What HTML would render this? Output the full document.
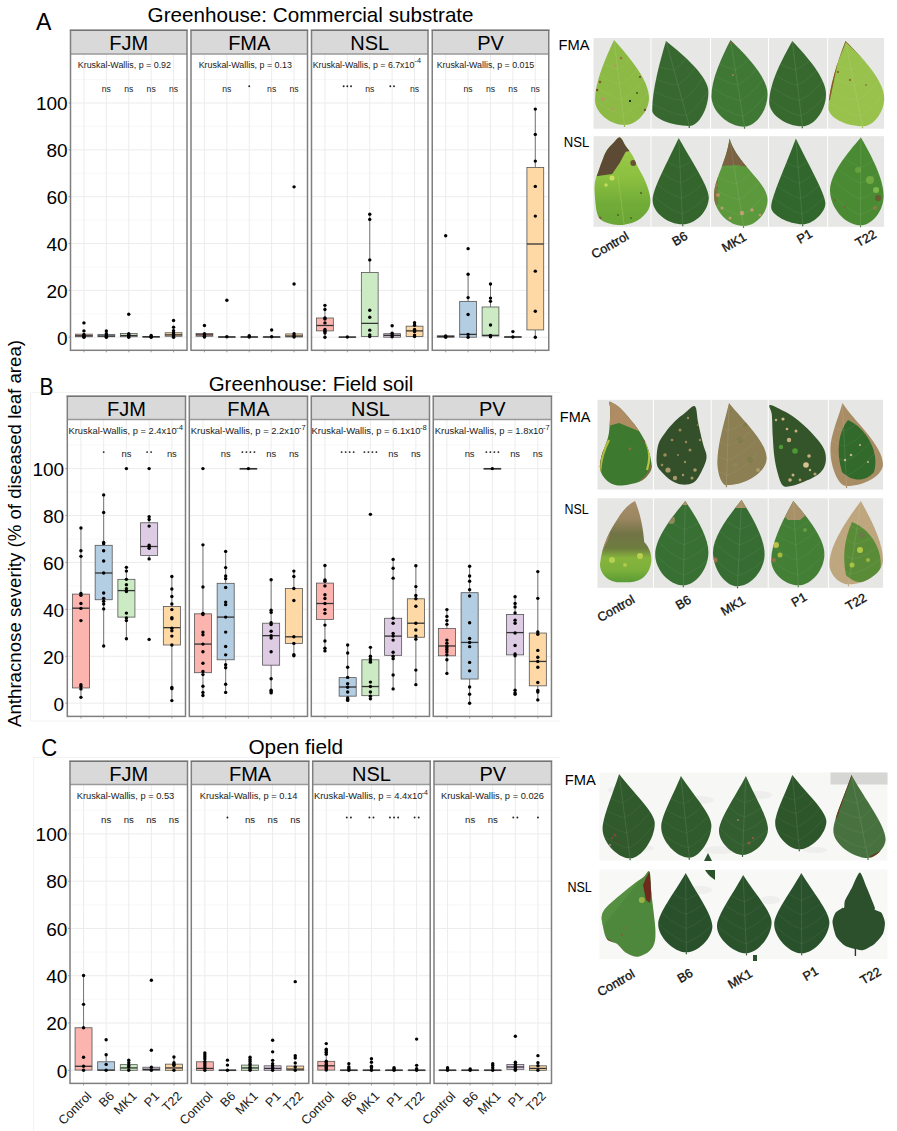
<!DOCTYPE html>
<html><head><meta charset="utf-8"><title>Anthracnose severity</title>
<style>html,body{margin:0;padding:0;background:#fff;}body{width:897px;height:1131px;overflow:hidden;}svg{display:block;}</style>
</head><body>
<svg width="897" height="1131" viewBox="0 0 897 1131" font-family='"Liberation Sans", sans-serif'>
<rect width="897" height="1131" fill="#fff"/>
<line x1="30.5" y1="392.5" x2="30.5" y2="721" stroke="#f0f0f0" stroke-width="1"/>
<line x1="30.5" y1="392.5" x2="560" y2="392.5" stroke="#f4f4f4" stroke-width="1"/>
<line x1="30.5" y1="721" x2="560" y2="721" stroke="#f4f4f4" stroke-width="1"/>
<line x1="33.5" y1="757.5" x2="33.5" y2="1131" stroke="#f2f2f2" stroke-width="1"/>
<line x1="33" y1="757.5" x2="560" y2="757.5" stroke="#f2f2f2" stroke-width="1"/>
<text x="36.0" y="29.5" font-size="24" textLength="15.4" lengthAdjust="spacingAndGlyphs" fill="#000">A</text>
<text x="147.6" y="22.4" font-size="21" textLength="326.0" lengthAdjust="spacingAndGlyphs" fill="#000">Greenhouse: Commercial substrate</text>
<rect x="70.50" y="54.00" width="116.50" height="296.30" fill="#fff"/>
<line x1="70.50" x2="187.00" y1="313.78" y2="313.78" stroke="#f4f4f4" stroke-width="0.6"/>
<line x1="70.50" x2="187.00" y1="266.94" y2="266.94" stroke="#f4f4f4" stroke-width="0.6"/>
<line x1="70.50" x2="187.00" y1="220.10" y2="220.10" stroke="#f4f4f4" stroke-width="0.6"/>
<line x1="70.50" x2="187.00" y1="173.26" y2="173.26" stroke="#f4f4f4" stroke-width="0.6"/>
<line x1="70.50" x2="187.00" y1="126.42" y2="126.42" stroke="#f4f4f4" stroke-width="0.6"/>
<line x1="70.50" x2="187.00" y1="79.58" y2="79.58" stroke="#f4f4f4" stroke-width="0.6"/>
<line x1="70.50" x2="187.00" y1="337.20" y2="337.20" stroke="#ececec" stroke-width="1"/>
<line x1="70.50" x2="187.00" y1="290.36" y2="290.36" stroke="#ececec" stroke-width="1"/>
<line x1="70.50" x2="187.00" y1="243.52" y2="243.52" stroke="#ececec" stroke-width="1"/>
<line x1="70.50" x2="187.00" y1="196.68" y2="196.68" stroke="#ececec" stroke-width="1"/>
<line x1="70.50" x2="187.00" y1="149.84" y2="149.84" stroke="#ececec" stroke-width="1"/>
<line x1="70.50" x2="187.00" y1="103.00" y2="103.00" stroke="#ececec" stroke-width="1"/>
<line x1="83.94" x2="83.94" y1="54.00" y2="350.30" stroke="#ececec" stroke-width="1"/>
<line x1="106.35" x2="106.35" y1="54.00" y2="350.30" stroke="#ececec" stroke-width="1"/>
<line x1="128.75" x2="128.75" y1="54.00" y2="350.30" stroke="#ececec" stroke-width="1"/>
<line x1="151.15" x2="151.15" y1="54.00" y2="350.30" stroke="#ececec" stroke-width="1"/>
<line x1="173.56" x2="173.56" y1="54.00" y2="350.30" stroke="#ececec" stroke-width="1"/>
<line x1="83.94" x2="83.94" y1="336.73" y2="337.20" stroke="#555" stroke-width="0.8"/>
<rect x="75.54" y="334.16" width="16.80" height="2.58" fill="#FBB4AE" stroke="#555" stroke-width="0.8"/>
<line x1="75.54" x2="92.34" y1="335.79" y2="335.79" stroke="#333" stroke-width="1.3"/>
<circle cx="83.94" cy="322.91" r="1.7" fill="#000"/>
<circle cx="83.94" cy="330.88" r="1.7" fill="#000"/>
<circle cx="83.94" cy="334.39" r="1.7" fill="#000"/>
<circle cx="83.94" cy="335.79" r="1.7" fill="#000"/>
<circle cx="83.94" cy="336.73" r="1.7" fill="#000"/>
<circle cx="83.94" cy="337.20" r="1.7" fill="#000"/>
<line x1="106.35" x2="106.35" y1="330.88" y2="334.39" stroke="#555" stroke-width="0.8"/>
<line x1="106.35" x2="106.35" y1="336.73" y2="337.20" stroke="#555" stroke-width="0.8"/>
<rect x="97.94" y="334.39" width="16.80" height="2.34" fill="#B3CDE3" stroke="#555" stroke-width="0.8"/>
<line x1="97.94" x2="114.75" y1="336.03" y2="336.03" stroke="#333" stroke-width="1.3"/>
<circle cx="106.35" cy="330.88" r="1.7" fill="#000"/>
<circle cx="106.35" cy="333.69" r="1.7" fill="#000"/>
<circle cx="106.35" cy="335.56" r="1.7" fill="#000"/>
<circle cx="106.35" cy="336.73" r="1.7" fill="#000"/>
<circle cx="106.35" cy="337.20" r="1.7" fill="#000"/>
<line x1="128.75" x2="128.75" y1="336.73" y2="337.20" stroke="#555" stroke-width="0.8"/>
<rect x="120.35" y="333.45" width="16.80" height="3.28" fill="#CCEBC5" stroke="#555" stroke-width="0.8"/>
<line x1="120.35" x2="137.15" y1="335.56" y2="335.56" stroke="#333" stroke-width="1.3"/>
<circle cx="128.75" cy="314.25" r="1.7" fill="#000"/>
<circle cx="128.75" cy="333.69" r="1.7" fill="#000"/>
<circle cx="128.75" cy="334.86" r="1.7" fill="#000"/>
<circle cx="128.75" cy="336.03" r="1.7" fill="#000"/>
<circle cx="128.75" cy="337.20" r="1.7" fill="#000"/>
<rect x="142.75" y="336.50" width="16.80" height="0.70" fill="#DECBE4" stroke="#555" stroke-width="0.8"/>
<line x1="142.75" x2="159.56" y1="336.73" y2="336.73" stroke="#333" stroke-width="1.3"/>
<circle cx="151.15" cy="335.56" r="1.7" fill="#000"/>
<circle cx="151.15" cy="336.73" r="1.7" fill="#000"/>
<circle cx="151.15" cy="337.20" r="1.7" fill="#000"/>
<line x1="173.56" x2="173.56" y1="327.13" y2="332.75" stroke="#555" stroke-width="0.8"/>
<line x1="173.56" x2="173.56" y1="336.26" y2="337.20" stroke="#555" stroke-width="0.8"/>
<rect x="165.16" y="332.75" width="16.80" height="3.51" fill="#FED9A6" stroke="#555" stroke-width="0.8"/>
<line x1="165.16" x2="181.96" y1="334.86" y2="334.86" stroke="#333" stroke-width="1.3"/>
<circle cx="173.56" cy="320.57" r="1.7" fill="#000"/>
<circle cx="173.56" cy="327.13" r="1.7" fill="#000"/>
<circle cx="173.56" cy="330.64" r="1.7" fill="#000"/>
<circle cx="173.56" cy="332.98" r="1.7" fill="#000"/>
<circle cx="173.56" cy="334.39" r="1.7" fill="#000"/>
<circle cx="173.56" cy="335.79" r="1.7" fill="#000"/>
<circle cx="173.56" cy="337.20" r="1.7" fill="#000"/>
<text x="77.80" y="68.00" font-size="8.9" textLength="93.20" lengthAdjust="spacingAndGlyphs" fill="#1a1a1a">Kruskal-Wallis, p = 0.92</text>
<text x="106.35" y="91.50" font-size="8.6" text-anchor="middle" fill="#1a1a1a">ns</text>
<text x="128.75" y="91.50" font-size="8.6" text-anchor="middle" fill="#1a1a1a">ns</text>
<text x="151.15" y="91.50" font-size="8.6" text-anchor="middle" fill="#1a1a1a">ns</text>
<text x="173.56" y="91.50" font-size="8.6" text-anchor="middle" fill="#1a1a1a">ns</text>
<rect x="70.50" y="30.25" width="116.50" height="23.75" fill="#d9d9d9"/>
<line x1="70.50" x2="187.00" y1="54.00" y2="54.00" stroke="#9a9a9a" stroke-width="1.5"/>
<text x="128.75" y="49.85" font-size="20" text-anchor="middle" fill="#000">FJM</text>
<rect x="70.50" y="30.25" width="116.50" height="320.05" fill="none" stroke="#7f7f7f" stroke-width="1.5"/>
<line x1="69.80" x2="187.70" y1="30.25" y2="30.25" stroke="#707070" stroke-width="1.1"/>
<line x1="83.94" x2="83.94" y1="350.30" y2="352.30" stroke="#888" stroke-width="0.8"/>
<line x1="106.35" x2="106.35" y1="350.30" y2="352.30" stroke="#888" stroke-width="0.8"/>
<line x1="128.75" x2="128.75" y1="350.30" y2="352.30" stroke="#888" stroke-width="0.8"/>
<line x1="151.15" x2="151.15" y1="350.30" y2="352.30" stroke="#888" stroke-width="0.8"/>
<line x1="173.56" x2="173.56" y1="350.30" y2="352.30" stroke="#888" stroke-width="0.8"/>
<rect x="191.00" y="54.00" width="116.50" height="296.30" fill="#fff"/>
<line x1="191.00" x2="307.50" y1="313.78" y2="313.78" stroke="#f4f4f4" stroke-width="0.6"/>
<line x1="191.00" x2="307.50" y1="266.94" y2="266.94" stroke="#f4f4f4" stroke-width="0.6"/>
<line x1="191.00" x2="307.50" y1="220.10" y2="220.10" stroke="#f4f4f4" stroke-width="0.6"/>
<line x1="191.00" x2="307.50" y1="173.26" y2="173.26" stroke="#f4f4f4" stroke-width="0.6"/>
<line x1="191.00" x2="307.50" y1="126.42" y2="126.42" stroke="#f4f4f4" stroke-width="0.6"/>
<line x1="191.00" x2="307.50" y1="79.58" y2="79.58" stroke="#f4f4f4" stroke-width="0.6"/>
<line x1="191.00" x2="307.50" y1="337.20" y2="337.20" stroke="#ececec" stroke-width="1"/>
<line x1="191.00" x2="307.50" y1="290.36" y2="290.36" stroke="#ececec" stroke-width="1"/>
<line x1="191.00" x2="307.50" y1="243.52" y2="243.52" stroke="#ececec" stroke-width="1"/>
<line x1="191.00" x2="307.50" y1="196.68" y2="196.68" stroke="#ececec" stroke-width="1"/>
<line x1="191.00" x2="307.50" y1="149.84" y2="149.84" stroke="#ececec" stroke-width="1"/>
<line x1="191.00" x2="307.50" y1="103.00" y2="103.00" stroke="#ececec" stroke-width="1"/>
<line x1="204.44" x2="204.44" y1="54.00" y2="350.30" stroke="#ececec" stroke-width="1"/>
<line x1="226.85" x2="226.85" y1="54.00" y2="350.30" stroke="#ececec" stroke-width="1"/>
<line x1="249.25" x2="249.25" y1="54.00" y2="350.30" stroke="#ececec" stroke-width="1"/>
<line x1="271.65" x2="271.65" y1="54.00" y2="350.30" stroke="#ececec" stroke-width="1"/>
<line x1="294.06" x2="294.06" y1="54.00" y2="350.30" stroke="#ececec" stroke-width="1"/>
<line x1="204.44" x2="204.44" y1="336.26" y2="337.20" stroke="#555" stroke-width="0.8"/>
<rect x="196.04" y="333.45" width="16.80" height="2.81" fill="#FBB4AE" stroke="#555" stroke-width="0.8"/>
<line x1="196.04" x2="212.84" y1="334.86" y2="334.86" stroke="#333" stroke-width="1.3"/>
<circle cx="204.44" cy="325.49" r="1.7" fill="#000"/>
<circle cx="204.44" cy="333.69" r="1.7" fill="#000"/>
<circle cx="204.44" cy="334.86" r="1.7" fill="#000"/>
<circle cx="204.44" cy="336.26" r="1.7" fill="#000"/>
<circle cx="204.44" cy="336.97" r="1.7" fill="#000"/>
<rect x="218.44" y="336.73" width="16.80" height="0.60" fill="#B3CDE3" stroke="#555" stroke-width="0.8"/>
<line x1="218.44" x2="235.25" y1="336.97" y2="336.97" stroke="#333" stroke-width="1.3"/>
<circle cx="226.85" cy="300.20" r="1.7" fill="#000"/>
<circle cx="226.85" cy="336.73" r="1.7" fill="#000"/>
<rect x="240.85" y="336.73" width="16.80" height="0.60" fill="#CCEBC5" stroke="#555" stroke-width="0.8"/>
<line x1="240.85" x2="257.65" y1="336.97" y2="336.97" stroke="#333" stroke-width="1.3"/>
<circle cx="249.25" cy="335.79" r="1.7" fill="#000"/>
<circle cx="249.25" cy="336.97" r="1.7" fill="#000"/>
<rect x="263.25" y="336.73" width="16.80" height="0.60" fill="#DECBE4" stroke="#555" stroke-width="0.8"/>
<line x1="263.25" x2="280.06" y1="336.97" y2="336.97" stroke="#333" stroke-width="1.3"/>
<circle cx="271.65" cy="329.94" r="1.7" fill="#000"/>
<circle cx="271.65" cy="336.73" r="1.7" fill="#000"/>
<line x1="294.06" x2="294.06" y1="336.97" y2="337.20" stroke="#555" stroke-width="0.8"/>
<rect x="285.66" y="333.92" width="16.80" height="3.04" fill="#FED9A6" stroke="#555" stroke-width="0.8"/>
<line x1="285.66" x2="302.46" y1="336.03" y2="336.03" stroke="#333" stroke-width="1.3"/>
<circle cx="294.06" cy="186.84" r="1.7" fill="#000"/>
<circle cx="294.06" cy="284.04" r="1.7" fill="#000"/>
<circle cx="294.06" cy="333.69" r="1.7" fill="#000"/>
<circle cx="294.06" cy="335.79" r="1.7" fill="#000"/>
<circle cx="294.06" cy="336.97" r="1.7" fill="#000"/>
<text x="198.70" y="68.00" font-size="8.9" textLength="93.20" lengthAdjust="spacingAndGlyphs" fill="#1a1a1a">Kruskal-Wallis, p = 0.13</text>
<text x="226.85" y="91.50" font-size="8.6" text-anchor="middle" fill="#1a1a1a">ns</text>
<circle cx="249.25" cy="86.20" r="0.95" fill="#222"/>
<text x="271.65" y="91.50" font-size="8.6" text-anchor="middle" fill="#1a1a1a">ns</text>
<text x="294.06" y="91.50" font-size="8.6" text-anchor="middle" fill="#1a1a1a">ns</text>
<rect x="191.00" y="30.25" width="116.50" height="23.75" fill="#d9d9d9"/>
<line x1="191.00" x2="307.50" y1="54.00" y2="54.00" stroke="#9a9a9a" stroke-width="1.5"/>
<text x="249.25" y="49.85" font-size="20" text-anchor="middle" fill="#000">FMA</text>
<rect x="191.00" y="30.25" width="116.50" height="320.05" fill="none" stroke="#7f7f7f" stroke-width="1.5"/>
<line x1="190.30" x2="308.20" y1="30.25" y2="30.25" stroke="#707070" stroke-width="1.1"/>
<line x1="204.44" x2="204.44" y1="350.30" y2="352.30" stroke="#888" stroke-width="0.8"/>
<line x1="226.85" x2="226.85" y1="350.30" y2="352.30" stroke="#888" stroke-width="0.8"/>
<line x1="249.25" x2="249.25" y1="350.30" y2="352.30" stroke="#888" stroke-width="0.8"/>
<line x1="271.65" x2="271.65" y1="350.30" y2="352.30" stroke="#888" stroke-width="0.8"/>
<line x1="294.06" x2="294.06" y1="350.30" y2="352.30" stroke="#888" stroke-width="0.8"/>
<rect x="311.50" y="54.00" width="116.50" height="296.30" fill="#fff"/>
<line x1="311.50" x2="428.00" y1="313.78" y2="313.78" stroke="#f4f4f4" stroke-width="0.6"/>
<line x1="311.50" x2="428.00" y1="266.94" y2="266.94" stroke="#f4f4f4" stroke-width="0.6"/>
<line x1="311.50" x2="428.00" y1="220.10" y2="220.10" stroke="#f4f4f4" stroke-width="0.6"/>
<line x1="311.50" x2="428.00" y1="173.26" y2="173.26" stroke="#f4f4f4" stroke-width="0.6"/>
<line x1="311.50" x2="428.00" y1="126.42" y2="126.42" stroke="#f4f4f4" stroke-width="0.6"/>
<line x1="311.50" x2="428.00" y1="79.58" y2="79.58" stroke="#f4f4f4" stroke-width="0.6"/>
<line x1="311.50" x2="428.00" y1="337.20" y2="337.20" stroke="#ececec" stroke-width="1"/>
<line x1="311.50" x2="428.00" y1="290.36" y2="290.36" stroke="#ececec" stroke-width="1"/>
<line x1="311.50" x2="428.00" y1="243.52" y2="243.52" stroke="#ececec" stroke-width="1"/>
<line x1="311.50" x2="428.00" y1="196.68" y2="196.68" stroke="#ececec" stroke-width="1"/>
<line x1="311.50" x2="428.00" y1="149.84" y2="149.84" stroke="#ececec" stroke-width="1"/>
<line x1="311.50" x2="428.00" y1="103.00" y2="103.00" stroke="#ececec" stroke-width="1"/>
<line x1="324.94" x2="324.94" y1="54.00" y2="350.30" stroke="#ececec" stroke-width="1"/>
<line x1="347.35" x2="347.35" y1="54.00" y2="350.30" stroke="#ececec" stroke-width="1"/>
<line x1="369.75" x2="369.75" y1="54.00" y2="350.30" stroke="#ececec" stroke-width="1"/>
<line x1="392.15" x2="392.15" y1="54.00" y2="350.30" stroke="#ececec" stroke-width="1"/>
<line x1="414.56" x2="414.56" y1="54.00" y2="350.30" stroke="#ececec" stroke-width="1"/>
<line x1="324.94" x2="324.94" y1="305.35" y2="318.00" stroke="#555" stroke-width="0.8"/>
<line x1="324.94" x2="324.94" y1="330.88" y2="337.20" stroke="#555" stroke-width="0.8"/>
<rect x="316.54" y="318.00" width="16.80" height="12.88" fill="#FBB4AE" stroke="#555" stroke-width="0.8"/>
<line x1="316.54" x2="333.34" y1="325.49" y2="325.49" stroke="#333" stroke-width="1.3"/>
<circle cx="324.94" cy="305.35" r="1.7" fill="#000"/>
<circle cx="324.94" cy="309.56" r="1.7" fill="#000"/>
<circle cx="324.94" cy="318.00" r="1.7" fill="#000"/>
<circle cx="324.94" cy="318.93" r="1.7" fill="#000"/>
<circle cx="324.94" cy="322.91" r="1.7" fill="#000"/>
<circle cx="324.94" cy="329.47" r="1.7" fill="#000"/>
<circle cx="324.94" cy="330.88" r="1.7" fill="#000"/>
<circle cx="324.94" cy="331.58" r="1.7" fill="#000"/>
<circle cx="324.94" cy="332.98" r="1.7" fill="#000"/>
<circle cx="324.94" cy="337.20" r="1.7" fill="#000"/>
<rect x="338.94" y="336.97" width="16.80" height="0.60" fill="#B3CDE3" stroke="#555" stroke-width="0.8"/>
<line x1="338.94" x2="355.75" y1="337.08" y2="337.08" stroke="#333" stroke-width="1.3"/>
<circle cx="347.35" cy="336.97" r="1.7" fill="#000"/>
<line x1="369.75" x2="369.75" y1="214.25" y2="272.56" stroke="#555" stroke-width="0.8"/>
<rect x="361.35" y="272.56" width="16.80" height="63.94" fill="#CCEBC5" stroke="#555" stroke-width="0.8"/>
<line x1="361.35" x2="378.15" y1="323.38" y2="323.38" stroke="#333" stroke-width="1.3"/>
<circle cx="369.75" cy="214.25" r="1.7" fill="#000"/>
<circle cx="369.75" cy="219.40" r="1.7" fill="#000"/>
<circle cx="369.75" cy="259.91" r="1.7" fill="#000"/>
<circle cx="369.75" cy="310.27" r="1.7" fill="#000"/>
<circle cx="369.75" cy="317.29" r="1.7" fill="#000"/>
<circle cx="369.75" cy="330.17" r="1.7" fill="#000"/>
<circle cx="369.75" cy="334.86" r="1.7" fill="#000"/>
<circle cx="369.75" cy="336.50" r="1.7" fill="#000"/>
<rect x="383.75" y="333.69" width="16.80" height="3.51" fill="#DECBE4" stroke="#555" stroke-width="0.8"/>
<line x1="383.75" x2="400.56" y1="335.33" y2="335.33" stroke="#333" stroke-width="1.3"/>
<circle cx="392.15" cy="325.72" r="1.7" fill="#000"/>
<circle cx="392.15" cy="333.22" r="1.7" fill="#000"/>
<circle cx="392.15" cy="335.09" r="1.7" fill="#000"/>
<circle cx="392.15" cy="336.73" r="1.7" fill="#000"/>
<line x1="414.56" x2="414.56" y1="322.68" y2="326.19" stroke="#555" stroke-width="0.8"/>
<rect x="406.16" y="326.19" width="16.80" height="10.30" fill="#FED9A6" stroke="#555" stroke-width="0.8"/>
<line x1="406.16" x2="422.96" y1="330.88" y2="330.88" stroke="#333" stroke-width="1.3"/>
<circle cx="414.56" cy="322.68" r="1.7" fill="#000"/>
<circle cx="414.56" cy="325.26" r="1.7" fill="#000"/>
<circle cx="414.56" cy="329.47" r="1.7" fill="#000"/>
<circle cx="414.56" cy="330.88" r="1.7" fill="#000"/>
<circle cx="414.56" cy="331.58" r="1.7" fill="#000"/>
<circle cx="414.56" cy="335.09" r="1.7" fill="#000"/>
<circle cx="414.56" cy="336.50" r="1.7" fill="#000"/>
<text x="312.70" y="68.00" font-size="8.9" textLength="101.60" lengthAdjust="spacingAndGlyphs" fill="#1a1a1a">Kruskal-Wallis, p = 6.7x10</text>
<text x="414.50" y="63.40" font-size="6.41" textLength="6.40" lengthAdjust="spacingAndGlyphs" fill="#1a1a1a">-4</text>
<circle cx="343.65" cy="86.20" r="0.95" fill="#222"/>
<circle cx="347.35" cy="86.20" r="0.95" fill="#222"/>
<circle cx="351.05" cy="86.20" r="0.95" fill="#222"/>
<text x="369.75" y="91.50" font-size="8.6" text-anchor="middle" fill="#1a1a1a">ns</text>
<circle cx="390.30" cy="86.20" r="0.95" fill="#222"/>
<circle cx="394.00" cy="86.20" r="0.95" fill="#222"/>
<text x="414.56" y="91.50" font-size="8.6" text-anchor="middle" fill="#1a1a1a">ns</text>
<rect x="311.50" y="30.25" width="116.50" height="23.75" fill="#d9d9d9"/>
<line x1="311.50" x2="428.00" y1="54.00" y2="54.00" stroke="#9a9a9a" stroke-width="1.5"/>
<text x="369.75" y="49.85" font-size="20" text-anchor="middle" fill="#000">NSL</text>
<rect x="311.50" y="30.25" width="116.50" height="320.05" fill="none" stroke="#7f7f7f" stroke-width="1.5"/>
<line x1="310.80" x2="428.70" y1="30.25" y2="30.25" stroke="#707070" stroke-width="1.1"/>
<line x1="324.94" x2="324.94" y1="350.30" y2="352.30" stroke="#888" stroke-width="0.8"/>
<line x1="347.35" x2="347.35" y1="350.30" y2="352.30" stroke="#888" stroke-width="0.8"/>
<line x1="369.75" x2="369.75" y1="350.30" y2="352.30" stroke="#888" stroke-width="0.8"/>
<line x1="392.15" x2="392.15" y1="350.30" y2="352.30" stroke="#888" stroke-width="0.8"/>
<line x1="414.56" x2="414.56" y1="350.30" y2="352.30" stroke="#888" stroke-width="0.8"/>
<rect x="432.25" y="54.00" width="116.50" height="296.30" fill="#fff"/>
<line x1="432.25" x2="548.75" y1="313.78" y2="313.78" stroke="#f4f4f4" stroke-width="0.6"/>
<line x1="432.25" x2="548.75" y1="266.94" y2="266.94" stroke="#f4f4f4" stroke-width="0.6"/>
<line x1="432.25" x2="548.75" y1="220.10" y2="220.10" stroke="#f4f4f4" stroke-width="0.6"/>
<line x1="432.25" x2="548.75" y1="173.26" y2="173.26" stroke="#f4f4f4" stroke-width="0.6"/>
<line x1="432.25" x2="548.75" y1="126.42" y2="126.42" stroke="#f4f4f4" stroke-width="0.6"/>
<line x1="432.25" x2="548.75" y1="79.58" y2="79.58" stroke="#f4f4f4" stroke-width="0.6"/>
<line x1="432.25" x2="548.75" y1="337.20" y2="337.20" stroke="#ececec" stroke-width="1"/>
<line x1="432.25" x2="548.75" y1="290.36" y2="290.36" stroke="#ececec" stroke-width="1"/>
<line x1="432.25" x2="548.75" y1="243.52" y2="243.52" stroke="#ececec" stroke-width="1"/>
<line x1="432.25" x2="548.75" y1="196.68" y2="196.68" stroke="#ececec" stroke-width="1"/>
<line x1="432.25" x2="548.75" y1="149.84" y2="149.84" stroke="#ececec" stroke-width="1"/>
<line x1="432.25" x2="548.75" y1="103.00" y2="103.00" stroke="#ececec" stroke-width="1"/>
<line x1="445.69" x2="445.69" y1="54.00" y2="350.30" stroke="#ececec" stroke-width="1"/>
<line x1="468.10" x2="468.10" y1="54.00" y2="350.30" stroke="#ececec" stroke-width="1"/>
<line x1="490.50" x2="490.50" y1="54.00" y2="350.30" stroke="#ececec" stroke-width="1"/>
<line x1="512.90" x2="512.90" y1="54.00" y2="350.30" stroke="#ececec" stroke-width="1"/>
<line x1="535.31" x2="535.31" y1="54.00" y2="350.30" stroke="#ececec" stroke-width="1"/>
<rect x="437.29" y="335.79" width="16.80" height="1.41" fill="#FBB4AE" stroke="#555" stroke-width="0.8"/>
<line x1="437.29" x2="454.09" y1="336.50" y2="336.50" stroke="#333" stroke-width="1.3"/>
<circle cx="445.69" cy="235.79" r="1.7" fill="#000"/>
<circle cx="445.69" cy="336.03" r="1.7" fill="#000"/>
<circle cx="445.69" cy="337.20" r="1.7" fill="#000"/>
<line x1="468.10" x2="468.10" y1="274.20" y2="301.37" stroke="#555" stroke-width="0.8"/>
<rect x="459.69" y="301.37" width="16.80" height="35.83" fill="#B3CDE3" stroke="#555" stroke-width="0.8"/>
<line x1="459.69" x2="476.50" y1="334.39" y2="334.39" stroke="#333" stroke-width="1.3"/>
<circle cx="468.10" cy="248.67" r="1.7" fill="#000"/>
<circle cx="468.10" cy="274.20" r="1.7" fill="#000"/>
<circle cx="468.10" cy="297.62" r="1.7" fill="#000"/>
<circle cx="468.10" cy="314.48" r="1.7" fill="#000"/>
<circle cx="468.10" cy="334.39" r="1.7" fill="#000"/>
<circle cx="468.10" cy="337.20" r="1.7" fill="#000"/>
<line x1="490.50" x2="490.50" y1="284.04" y2="306.99" stroke="#555" stroke-width="0.8"/>
<rect x="482.10" y="306.99" width="16.80" height="29.04" fill="#CCEBC5" stroke="#555" stroke-width="0.8"/>
<line x1="482.10" x2="498.90" y1="335.33" y2="335.33" stroke="#333" stroke-width="1.3"/>
<circle cx="490.50" cy="284.04" r="1.7" fill="#000"/>
<circle cx="490.50" cy="298.09" r="1.7" fill="#000"/>
<circle cx="490.50" cy="301.37" r="1.7" fill="#000"/>
<circle cx="490.50" cy="325.02" r="1.7" fill="#000"/>
<circle cx="490.50" cy="335.33" r="1.7" fill="#000"/>
<circle cx="490.50" cy="336.73" r="1.7" fill="#000"/>
<rect x="504.50" y="336.73" width="16.80" height="0.60" fill="#DECBE4" stroke="#555" stroke-width="0.8"/>
<line x1="504.50" x2="521.31" y1="336.97" y2="336.97" stroke="#333" stroke-width="1.3"/>
<circle cx="512.90" cy="331.58" r="1.7" fill="#000"/>
<circle cx="512.90" cy="336.97" r="1.7" fill="#000"/>
<line x1="535.31" x2="535.31" y1="109.09" y2="167.40" stroke="#555" stroke-width="0.8"/>
<line x1="535.31" x2="535.31" y1="329.94" y2="337.20" stroke="#555" stroke-width="0.8"/>
<rect x="526.91" y="167.40" width="16.80" height="162.53" fill="#FED9A6" stroke="#555" stroke-width="0.8"/>
<line x1="526.91" x2="543.71" y1="243.99" y2="243.99" stroke="#333" stroke-width="1.3"/>
<circle cx="535.31" cy="109.09" r="1.7" fill="#000"/>
<circle cx="535.31" cy="134.38" r="1.7" fill="#000"/>
<circle cx="535.31" cy="161.08" r="1.7" fill="#000"/>
<circle cx="535.31" cy="186.38" r="1.7" fill="#000"/>
<circle cx="535.31" cy="216.12" r="1.7" fill="#000"/>
<circle cx="535.31" cy="271.16" r="1.7" fill="#000"/>
<circle cx="535.31" cy="311.20" r="1.7" fill="#000"/>
<circle cx="535.31" cy="337.20" r="1.7" fill="#000"/>
<text x="436.70" y="68.00" font-size="8.9" textLength="97.60" lengthAdjust="spacingAndGlyphs" fill="#1a1a1a">Kruskal-Wallis, p = 0.015</text>
<text x="468.10" y="91.50" font-size="8.6" text-anchor="middle" fill="#1a1a1a">ns</text>
<text x="490.50" y="91.50" font-size="8.6" text-anchor="middle" fill="#1a1a1a">ns</text>
<text x="512.90" y="91.50" font-size="8.6" text-anchor="middle" fill="#1a1a1a">ns</text>
<text x="535.31" y="91.50" font-size="8.6" text-anchor="middle" fill="#1a1a1a">ns</text>
<rect x="432.25" y="30.25" width="116.50" height="23.75" fill="#d9d9d9"/>
<line x1="432.25" x2="548.75" y1="54.00" y2="54.00" stroke="#9a9a9a" stroke-width="1.5"/>
<text x="490.50" y="49.85" font-size="20" text-anchor="middle" fill="#000">PV</text>
<rect x="432.25" y="30.25" width="116.50" height="320.05" fill="none" stroke="#7f7f7f" stroke-width="1.5"/>
<line x1="431.55" x2="549.45" y1="30.25" y2="30.25" stroke="#707070" stroke-width="1.1"/>
<line x1="445.69" x2="445.69" y1="350.30" y2="352.30" stroke="#888" stroke-width="0.8"/>
<line x1="468.10" x2="468.10" y1="350.30" y2="352.30" stroke="#888" stroke-width="0.8"/>
<line x1="490.50" x2="490.50" y1="350.30" y2="352.30" stroke="#888" stroke-width="0.8"/>
<line x1="512.90" x2="512.90" y1="350.30" y2="352.30" stroke="#888" stroke-width="0.8"/>
<line x1="535.31" x2="535.31" y1="350.30" y2="352.30" stroke="#888" stroke-width="0.8"/>
<line x1="68.50" x2="70.50" y1="337.20" y2="337.20" stroke="#888" stroke-width="0.8"/>
<text x="67.60" y="344.50" font-size="19" text-anchor="end" fill="#000">0</text>
<line x1="68.50" x2="70.50" y1="290.36" y2="290.36" stroke="#888" stroke-width="0.8"/>
<text x="67.60" y="297.66" font-size="19" text-anchor="end" fill="#000">20</text>
<line x1="68.50" x2="70.50" y1="243.52" y2="243.52" stroke="#888" stroke-width="0.8"/>
<text x="67.60" y="250.82" font-size="19" text-anchor="end" fill="#000">40</text>
<line x1="68.50" x2="70.50" y1="196.68" y2="196.68" stroke="#888" stroke-width="0.8"/>
<text x="67.60" y="203.98" font-size="19" text-anchor="end" fill="#000">60</text>
<line x1="68.50" x2="70.50" y1="149.84" y2="149.84" stroke="#888" stroke-width="0.8"/>
<text x="67.60" y="157.14" font-size="19" text-anchor="end" fill="#000">80</text>
<line x1="68.50" x2="70.50" y1="103.00" y2="103.00" stroke="#888" stroke-width="0.8"/>
<text x="67.60" y="110.30" font-size="19" text-anchor="end" fill="#000">100</text>
<text x="39.6" y="395.4" font-size="23.3" textLength="14.0" lengthAdjust="spacingAndGlyphs" fill="#000">B</text>
<text x="208.7" y="390.9" font-size="21" textLength="204.7" lengthAdjust="spacingAndGlyphs" fill="#000">Greenhouse: Field soil</text>
<rect x="67.30" y="419.40" width="118.20" height="297.00" fill="#fff"/>
<line x1="67.30" x2="185.50" y1="679.74" y2="679.74" stroke="#f4f4f4" stroke-width="0.6"/>
<line x1="67.30" x2="185.50" y1="632.82" y2="632.82" stroke="#f4f4f4" stroke-width="0.6"/>
<line x1="67.30" x2="185.50" y1="585.90" y2="585.90" stroke="#f4f4f4" stroke-width="0.6"/>
<line x1="67.30" x2="185.50" y1="538.98" y2="538.98" stroke="#f4f4f4" stroke-width="0.6"/>
<line x1="67.30" x2="185.50" y1="492.06" y2="492.06" stroke="#f4f4f4" stroke-width="0.6"/>
<line x1="67.30" x2="185.50" y1="445.14" y2="445.14" stroke="#f4f4f4" stroke-width="0.6"/>
<line x1="67.30" x2="185.50" y1="703.20" y2="703.20" stroke="#ececec" stroke-width="1"/>
<line x1="67.30" x2="185.50" y1="656.28" y2="656.28" stroke="#ececec" stroke-width="1"/>
<line x1="67.30" x2="185.50" y1="609.36" y2="609.36" stroke="#ececec" stroke-width="1"/>
<line x1="67.30" x2="185.50" y1="562.44" y2="562.44" stroke="#ececec" stroke-width="1"/>
<line x1="67.30" x2="185.50" y1="515.52" y2="515.52" stroke="#ececec" stroke-width="1"/>
<line x1="67.30" x2="185.50" y1="468.60" y2="468.60" stroke="#ececec" stroke-width="1"/>
<line x1="80.94" x2="80.94" y1="419.40" y2="716.40" stroke="#ececec" stroke-width="1"/>
<line x1="103.67" x2="103.67" y1="419.40" y2="716.40" stroke="#ececec" stroke-width="1"/>
<line x1="126.40" x2="126.40" y1="419.40" y2="716.40" stroke="#ececec" stroke-width="1"/>
<line x1="149.13" x2="149.13" y1="419.40" y2="716.40" stroke="#ececec" stroke-width="1"/>
<line x1="171.86" x2="171.86" y1="419.40" y2="716.40" stroke="#ececec" stroke-width="1"/>
<line x1="80.94" x2="80.94" y1="527.95" y2="594.11" stroke="#555" stroke-width="0.8"/>
<line x1="80.94" x2="80.94" y1="687.95" y2="697.34" stroke="#555" stroke-width="0.8"/>
<rect x="72.41" y="594.11" width="17.05" height="93.84" fill="#FBB4AE" stroke="#555" stroke-width="0.8"/>
<line x1="72.41" x2="89.46" y1="608.19" y2="608.19" stroke="#333" stroke-width="1.3"/>
<circle cx="80.94" cy="527.95" r="1.7" fill="#000"/>
<circle cx="80.94" cy="550.71" r="1.7" fill="#000"/>
<circle cx="80.94" cy="556.34" r="1.7" fill="#000"/>
<circle cx="80.94" cy="593.41" r="1.7" fill="#000"/>
<circle cx="80.94" cy="595.28" r="1.7" fill="#000"/>
<circle cx="80.94" cy="603.50" r="1.7" fill="#000"/>
<circle cx="80.94" cy="608.42" r="1.7" fill="#000"/>
<circle cx="80.94" cy="620.62" r="1.7" fill="#000"/>
<circle cx="80.94" cy="684.67" r="1.7" fill="#000"/>
<circle cx="80.94" cy="686.54" r="1.7" fill="#000"/>
<circle cx="80.94" cy="688.89" r="1.7" fill="#000"/>
<circle cx="80.94" cy="697.34" r="1.7" fill="#000"/>
<line x1="103.67" x2="103.67" y1="494.88" y2="545.31" stroke="#555" stroke-width="0.8"/>
<line x1="103.67" x2="103.67" y1="599.74" y2="645.96" stroke="#555" stroke-width="0.8"/>
<rect x="95.15" y="545.31" width="17.05" height="54.43" fill="#B3CDE3" stroke="#555" stroke-width="0.8"/>
<line x1="95.15" x2="112.19" y1="573.00" y2="573.00" stroke="#333" stroke-width="1.3"/>
<circle cx="103.67" cy="494.88" r="1.7" fill="#000"/>
<circle cx="103.67" cy="512.47" r="1.7" fill="#000"/>
<circle cx="103.67" cy="542.50" r="1.7" fill="#000"/>
<circle cx="103.67" cy="543.67" r="1.7" fill="#000"/>
<circle cx="103.67" cy="550.71" r="1.7" fill="#000"/>
<circle cx="103.67" cy="561.03" r="1.7" fill="#000"/>
<circle cx="103.67" cy="573.00" r="1.7" fill="#000"/>
<circle cx="103.67" cy="592.94" r="1.7" fill="#000"/>
<circle cx="103.67" cy="598.33" r="1.7" fill="#000"/>
<circle cx="103.67" cy="601.15" r="1.7" fill="#000"/>
<circle cx="103.67" cy="603.96" r="1.7" fill="#000"/>
<circle cx="103.67" cy="608.89" r="1.7" fill="#000"/>
<circle cx="103.67" cy="645.96" r="1.7" fill="#000"/>
<line x1="126.40" x2="126.40" y1="567.37" y2="579.33" stroke="#555" stroke-width="0.8"/>
<line x1="126.40" x2="126.40" y1="617.10" y2="638.69" stroke="#555" stroke-width="0.8"/>
<rect x="117.88" y="579.33" width="17.05" height="37.77" fill="#CCEBC5" stroke="#555" stroke-width="0.8"/>
<line x1="117.88" x2="134.92" y1="590.59" y2="590.59" stroke="#333" stroke-width="1.3"/>
<circle cx="126.40" cy="468.60" r="1.7" fill="#000"/>
<circle cx="126.40" cy="567.37" r="1.7" fill="#000"/>
<circle cx="126.40" cy="571.12" r="1.7" fill="#000"/>
<circle cx="126.40" cy="579.33" r="1.7" fill="#000"/>
<circle cx="126.40" cy="584.73" r="1.7" fill="#000"/>
<circle cx="126.40" cy="588.72" r="1.7" fill="#000"/>
<circle cx="126.40" cy="591.53" r="1.7" fill="#000"/>
<circle cx="126.40" cy="613.11" r="1.7" fill="#000"/>
<circle cx="126.40" cy="618.04" r="1.7" fill="#000"/>
<circle cx="126.40" cy="620.62" r="1.7" fill="#000"/>
<circle cx="126.40" cy="638.69" r="1.7" fill="#000"/>
<line x1="149.13" x2="149.13" y1="516.69" y2="522.79" stroke="#555" stroke-width="0.8"/>
<line x1="149.13" x2="149.13" y1="555.40" y2="558.92" stroke="#555" stroke-width="0.8"/>
<rect x="140.61" y="522.79" width="17.05" height="32.61" fill="#DECBE4" stroke="#555" stroke-width="0.8"/>
<line x1="140.61" x2="157.65" y1="546.49" y2="546.49" stroke="#333" stroke-width="1.3"/>
<circle cx="149.13" cy="468.60" r="1.7" fill="#000"/>
<circle cx="149.13" cy="516.69" r="1.7" fill="#000"/>
<circle cx="149.13" cy="519.51" r="1.7" fill="#000"/>
<circle cx="149.13" cy="526.08" r="1.7" fill="#000"/>
<circle cx="149.13" cy="545.08" r="1.7" fill="#000"/>
<circle cx="149.13" cy="546.49" r="1.7" fill="#000"/>
<circle cx="149.13" cy="548.36" r="1.7" fill="#000"/>
<circle cx="149.13" cy="558.92" r="1.7" fill="#000"/>
<circle cx="149.13" cy="639.39" r="1.7" fill="#000"/>
<line x1="171.86" x2="171.86" y1="576.52" y2="606.54" stroke="#555" stroke-width="0.8"/>
<line x1="171.86" x2="171.86" y1="645.02" y2="700.62" stroke="#555" stroke-width="0.8"/>
<rect x="163.34" y="606.54" width="17.05" height="38.47" fill="#FED9A6" stroke="#555" stroke-width="0.8"/>
<line x1="163.34" x2="180.39" y1="627.66" y2="627.66" stroke="#333" stroke-width="1.3"/>
<circle cx="171.86" cy="576.52" r="1.7" fill="#000"/>
<circle cx="171.86" cy="588.95" r="1.7" fill="#000"/>
<circle cx="171.86" cy="596.46" r="1.7" fill="#000"/>
<circle cx="171.86" cy="603.96" r="1.7" fill="#000"/>
<circle cx="171.86" cy="609.59" r="1.7" fill="#000"/>
<circle cx="171.86" cy="617.81" r="1.7" fill="#000"/>
<circle cx="171.86" cy="618.74" r="1.7" fill="#000"/>
<circle cx="171.86" cy="628.13" r="1.7" fill="#000"/>
<circle cx="171.86" cy="630.71" r="1.7" fill="#000"/>
<circle cx="171.86" cy="636.10" r="1.7" fill="#000"/>
<circle cx="171.86" cy="645.02" r="1.7" fill="#000"/>
<circle cx="171.86" cy="687.48" r="1.7" fill="#000"/>
<circle cx="171.86" cy="688.65" r="1.7" fill="#000"/>
<circle cx="171.86" cy="700.62" r="1.7" fill="#000"/>
<text x="68.50" y="434.30" font-size="9.2" textLength="108.10" lengthAdjust="spacingAndGlyphs" fill="#1a1a1a">Kruskal-Wallis, p = 2.4x10</text>
<text x="176.10" y="429.70" font-size="6.62" textLength="6.90" lengthAdjust="spacingAndGlyphs" fill="#1a1a1a">-4</text>
<circle cx="103.67" cy="452.10" r="0.95" fill="#222"/>
<text x="126.40" y="457.40" font-size="9.4" text-anchor="middle" fill="#1a1a1a">ns</text>
<circle cx="147.13" cy="452.10" r="0.95" fill="#222"/>
<circle cx="151.13" cy="452.10" r="0.95" fill="#222"/>
<text x="171.86" y="457.40" font-size="9.4" text-anchor="middle" fill="#1a1a1a">ns</text>
<rect x="67.30" y="396.25" width="118.20" height="23.15" fill="#d9d9d9"/>
<line x1="67.30" x2="185.50" y1="419.40" y2="419.40" stroke="#9a9a9a" stroke-width="1.5"/>
<text x="126.40" y="415.85" font-size="20" text-anchor="middle" fill="#000">FJM</text>
<rect x="67.30" y="396.25" width="118.20" height="320.15" fill="none" stroke="#7f7f7f" stroke-width="1.5"/>
<line x1="66.60" x2="186.20" y1="396.25" y2="396.25" stroke="#707070" stroke-width="1.1"/>
<line x1="80.94" x2="80.94" y1="716.40" y2="718.40" stroke="#888" stroke-width="0.8"/>
<line x1="103.67" x2="103.67" y1="716.40" y2="718.40" stroke="#888" stroke-width="0.8"/>
<line x1="126.40" x2="126.40" y1="716.40" y2="718.40" stroke="#888" stroke-width="0.8"/>
<line x1="149.13" x2="149.13" y1="716.40" y2="718.40" stroke="#888" stroke-width="0.8"/>
<line x1="171.86" x2="171.86" y1="716.40" y2="718.40" stroke="#888" stroke-width="0.8"/>
<rect x="189.30" y="419.40" width="118.20" height="297.00" fill="#fff"/>
<line x1="189.30" x2="307.50" y1="679.74" y2="679.74" stroke="#f4f4f4" stroke-width="0.6"/>
<line x1="189.30" x2="307.50" y1="632.82" y2="632.82" stroke="#f4f4f4" stroke-width="0.6"/>
<line x1="189.30" x2="307.50" y1="585.90" y2="585.90" stroke="#f4f4f4" stroke-width="0.6"/>
<line x1="189.30" x2="307.50" y1="538.98" y2="538.98" stroke="#f4f4f4" stroke-width="0.6"/>
<line x1="189.30" x2="307.50" y1="492.06" y2="492.06" stroke="#f4f4f4" stroke-width="0.6"/>
<line x1="189.30" x2="307.50" y1="445.14" y2="445.14" stroke="#f4f4f4" stroke-width="0.6"/>
<line x1="189.30" x2="307.50" y1="703.20" y2="703.20" stroke="#ececec" stroke-width="1"/>
<line x1="189.30" x2="307.50" y1="656.28" y2="656.28" stroke="#ececec" stroke-width="1"/>
<line x1="189.30" x2="307.50" y1="609.36" y2="609.36" stroke="#ececec" stroke-width="1"/>
<line x1="189.30" x2="307.50" y1="562.44" y2="562.44" stroke="#ececec" stroke-width="1"/>
<line x1="189.30" x2="307.50" y1="515.52" y2="515.52" stroke="#ececec" stroke-width="1"/>
<line x1="189.30" x2="307.50" y1="468.60" y2="468.60" stroke="#ececec" stroke-width="1"/>
<line x1="202.94" x2="202.94" y1="419.40" y2="716.40" stroke="#ececec" stroke-width="1"/>
<line x1="225.67" x2="225.67" y1="419.40" y2="716.40" stroke="#ececec" stroke-width="1"/>
<line x1="248.40" x2="248.40" y1="419.40" y2="716.40" stroke="#ececec" stroke-width="1"/>
<line x1="271.13" x2="271.13" y1="419.40" y2="716.40" stroke="#ececec" stroke-width="1"/>
<line x1="293.86" x2="293.86" y1="419.40" y2="716.40" stroke="#ececec" stroke-width="1"/>
<line x1="202.94" x2="202.94" y1="544.85" y2="613.82" stroke="#555" stroke-width="0.8"/>
<line x1="202.94" x2="202.94" y1="672.70" y2="695.46" stroke="#555" stroke-width="0.8"/>
<rect x="194.41" y="613.82" width="17.05" height="58.88" fill="#FBB4AE" stroke="#555" stroke-width="0.8"/>
<line x1="194.41" x2="211.46" y1="644.08" y2="644.08" stroke="#333" stroke-width="1.3"/>
<circle cx="202.94" cy="468.60" r="1.7" fill="#000"/>
<circle cx="202.94" cy="544.85" r="1.7" fill="#000"/>
<circle cx="202.94" cy="587.07" r="1.7" fill="#000"/>
<circle cx="202.94" cy="613.35" r="1.7" fill="#000"/>
<circle cx="202.94" cy="614.52" r="1.7" fill="#000"/>
<circle cx="202.94" cy="632.12" r="1.7" fill="#000"/>
<circle cx="202.94" cy="634.70" r="1.7" fill="#000"/>
<circle cx="202.94" cy="644.08" r="1.7" fill="#000"/>
<circle cx="202.94" cy="651.82" r="1.7" fill="#000"/>
<circle cx="202.94" cy="663.32" r="1.7" fill="#000"/>
<circle cx="202.94" cy="671.53" r="1.7" fill="#000"/>
<circle cx="202.94" cy="674.58" r="1.7" fill="#000"/>
<circle cx="202.94" cy="686.31" r="1.7" fill="#000"/>
<circle cx="202.94" cy="692.41" r="1.7" fill="#000"/>
<circle cx="202.94" cy="695.46" r="1.7" fill="#000"/>
<line x1="225.67" x2="225.67" y1="551.41" y2="583.32" stroke="#555" stroke-width="0.8"/>
<line x1="225.67" x2="225.67" y1="659.80" y2="692.41" stroke="#555" stroke-width="0.8"/>
<rect x="217.15" y="583.32" width="17.05" height="76.48" fill="#B3CDE3" stroke="#555" stroke-width="0.8"/>
<line x1="217.15" x2="234.19" y1="617.10" y2="617.10" stroke="#333" stroke-width="1.3"/>
<circle cx="225.67" cy="551.41" r="1.7" fill="#000"/>
<circle cx="225.67" cy="567.60" r="1.7" fill="#000"/>
<circle cx="225.67" cy="576.05" r="1.7" fill="#000"/>
<circle cx="225.67" cy="578.63" r="1.7" fill="#000"/>
<circle cx="225.67" cy="587.54" r="1.7" fill="#000"/>
<circle cx="225.67" cy="602.09" r="1.7" fill="#000"/>
<circle cx="225.67" cy="604.67" r="1.7" fill="#000"/>
<circle cx="225.67" cy="617.10" r="1.7" fill="#000"/>
<circle cx="225.67" cy="632.12" r="1.7" fill="#000"/>
<circle cx="225.67" cy="646.43" r="1.7" fill="#000"/>
<circle cx="225.67" cy="654.87" r="1.7" fill="#000"/>
<circle cx="225.67" cy="664.73" r="1.7" fill="#000"/>
<circle cx="225.67" cy="667.78" r="1.7" fill="#000"/>
<circle cx="225.67" cy="684.20" r="1.7" fill="#000"/>
<circle cx="225.67" cy="692.41" r="1.7" fill="#000"/>
<rect x="239.88" y="468.60" width="17.05" height="0.60" fill="#CCEBC5" stroke="#555" stroke-width="0.8"/>
<line x1="239.88" x2="256.92" y1="468.60" y2="468.60" stroke="#333" stroke-width="1.3"/>
<circle cx="248.40" cy="468.60" r="1.7" fill="#000"/>
<line x1="271.13" x2="271.13" y1="579.80" y2="623.20" stroke="#555" stroke-width="0.8"/>
<line x1="271.13" x2="271.13" y1="665.19" y2="692.88" stroke="#555" stroke-width="0.8"/>
<rect x="262.61" y="623.20" width="17.05" height="41.99" fill="#DECBE4" stroke="#555" stroke-width="0.8"/>
<line x1="262.61" x2="279.65" y1="635.64" y2="635.64" stroke="#333" stroke-width="1.3"/>
<circle cx="271.13" cy="579.80" r="1.7" fill="#000"/>
<circle cx="271.13" cy="610.30" r="1.7" fill="#000"/>
<circle cx="271.13" cy="612.41" r="1.7" fill="#000"/>
<circle cx="271.13" cy="622.73" r="1.7" fill="#000"/>
<circle cx="271.13" cy="624.61" r="1.7" fill="#000"/>
<circle cx="271.13" cy="631.18" r="1.7" fill="#000"/>
<circle cx="271.13" cy="635.64" r="1.7" fill="#000"/>
<circle cx="271.13" cy="637.98" r="1.7" fill="#000"/>
<circle cx="271.13" cy="651.82" r="1.7" fill="#000"/>
<circle cx="271.13" cy="678.80" r="1.7" fill="#000"/>
<circle cx="271.13" cy="690.30" r="1.7" fill="#000"/>
<circle cx="271.13" cy="691.70" r="1.7" fill="#000"/>
<circle cx="271.13" cy="692.88" r="1.7" fill="#000"/>
<line x1="293.86" x2="293.86" y1="571.12" y2="588.48" stroke="#555" stroke-width="0.8"/>
<line x1="293.86" x2="293.86" y1="643.38" y2="655.81" stroke="#555" stroke-width="0.8"/>
<rect x="285.34" y="588.48" width="17.05" height="54.90" fill="#FED9A6" stroke="#555" stroke-width="0.8"/>
<line x1="285.34" x2="302.39" y1="636.81" y2="636.81" stroke="#333" stroke-width="1.3"/>
<circle cx="293.86" cy="571.12" r="1.7" fill="#000"/>
<circle cx="293.86" cy="576.52" r="1.7" fill="#000"/>
<circle cx="293.86" cy="588.48" r="1.7" fill="#000"/>
<circle cx="293.86" cy="600.45" r="1.7" fill="#000"/>
<circle cx="293.86" cy="636.81" r="1.7" fill="#000"/>
<circle cx="293.86" cy="643.38" r="1.7" fill="#000"/>
<circle cx="293.86" cy="654.64" r="1.7" fill="#000"/>
<circle cx="293.86" cy="655.81" r="1.7" fill="#000"/>
<text x="190.80" y="434.30" font-size="9.2" textLength="108.70" lengthAdjust="spacingAndGlyphs" fill="#1a1a1a">Kruskal-Wallis, p = 2.2x10</text>
<text x="299.10" y="429.70" font-size="6.62" textLength="6.70" lengthAdjust="spacingAndGlyphs" fill="#1a1a1a">-7</text>
<text x="225.67" y="457.40" font-size="9.4" text-anchor="middle" fill="#1a1a1a">ns</text>
<circle cx="242.40" cy="452.10" r="0.95" fill="#222"/>
<circle cx="246.40" cy="452.10" r="0.95" fill="#222"/>
<circle cx="250.40" cy="452.10" r="0.95" fill="#222"/>
<circle cx="254.40" cy="452.10" r="0.95" fill="#222"/>
<text x="271.13" y="457.40" font-size="9.4" text-anchor="middle" fill="#1a1a1a">ns</text>
<text x="293.86" y="457.40" font-size="9.4" text-anchor="middle" fill="#1a1a1a">ns</text>
<rect x="189.30" y="396.25" width="118.20" height="23.15" fill="#d9d9d9"/>
<line x1="189.30" x2="307.50" y1="419.40" y2="419.40" stroke="#9a9a9a" stroke-width="1.5"/>
<text x="248.40" y="415.85" font-size="20" text-anchor="middle" fill="#000">FMA</text>
<rect x="189.30" y="396.25" width="118.20" height="320.15" fill="none" stroke="#7f7f7f" stroke-width="1.5"/>
<line x1="188.60" x2="308.20" y1="396.25" y2="396.25" stroke="#707070" stroke-width="1.1"/>
<line x1="202.94" x2="202.94" y1="716.40" y2="718.40" stroke="#888" stroke-width="0.8"/>
<line x1="225.67" x2="225.67" y1="716.40" y2="718.40" stroke="#888" stroke-width="0.8"/>
<line x1="248.40" x2="248.40" y1="716.40" y2="718.40" stroke="#888" stroke-width="0.8"/>
<line x1="271.13" x2="271.13" y1="716.40" y2="718.40" stroke="#888" stroke-width="0.8"/>
<line x1="293.86" x2="293.86" y1="716.40" y2="718.40" stroke="#888" stroke-width="0.8"/>
<rect x="311.30" y="419.40" width="118.20" height="297.00" fill="#fff"/>
<line x1="311.30" x2="429.50" y1="679.74" y2="679.74" stroke="#f4f4f4" stroke-width="0.6"/>
<line x1="311.30" x2="429.50" y1="632.82" y2="632.82" stroke="#f4f4f4" stroke-width="0.6"/>
<line x1="311.30" x2="429.50" y1="585.90" y2="585.90" stroke="#f4f4f4" stroke-width="0.6"/>
<line x1="311.30" x2="429.50" y1="538.98" y2="538.98" stroke="#f4f4f4" stroke-width="0.6"/>
<line x1="311.30" x2="429.50" y1="492.06" y2="492.06" stroke="#f4f4f4" stroke-width="0.6"/>
<line x1="311.30" x2="429.50" y1="445.14" y2="445.14" stroke="#f4f4f4" stroke-width="0.6"/>
<line x1="311.30" x2="429.50" y1="703.20" y2="703.20" stroke="#ececec" stroke-width="1"/>
<line x1="311.30" x2="429.50" y1="656.28" y2="656.28" stroke="#ececec" stroke-width="1"/>
<line x1="311.30" x2="429.50" y1="609.36" y2="609.36" stroke="#ececec" stroke-width="1"/>
<line x1="311.30" x2="429.50" y1="562.44" y2="562.44" stroke="#ececec" stroke-width="1"/>
<line x1="311.30" x2="429.50" y1="515.52" y2="515.52" stroke="#ececec" stroke-width="1"/>
<line x1="311.30" x2="429.50" y1="468.60" y2="468.60" stroke="#ececec" stroke-width="1"/>
<line x1="324.94" x2="324.94" y1="419.40" y2="716.40" stroke="#ececec" stroke-width="1"/>
<line x1="347.67" x2="347.67" y1="419.40" y2="716.40" stroke="#ececec" stroke-width="1"/>
<line x1="370.40" x2="370.40" y1="419.40" y2="716.40" stroke="#ececec" stroke-width="1"/>
<line x1="393.13" x2="393.13" y1="419.40" y2="716.40" stroke="#ececec" stroke-width="1"/>
<line x1="415.86" x2="415.86" y1="419.40" y2="716.40" stroke="#ececec" stroke-width="1"/>
<line x1="324.94" x2="324.94" y1="565.49" y2="583.08" stroke="#555" stroke-width="0.8"/>
<line x1="324.94" x2="324.94" y1="619.45" y2="650.88" stroke="#555" stroke-width="0.8"/>
<rect x="316.41" y="583.08" width="17.05" height="36.36" fill="#FBB4AE" stroke="#555" stroke-width="0.8"/>
<line x1="316.41" x2="333.46" y1="603.50" y2="603.50" stroke="#333" stroke-width="1.3"/>
<circle cx="324.94" cy="565.49" r="1.7" fill="#000"/>
<circle cx="324.94" cy="580.04" r="1.7" fill="#000"/>
<circle cx="324.94" cy="581.21" r="1.7" fill="#000"/>
<circle cx="324.94" cy="585.90" r="1.7" fill="#000"/>
<circle cx="324.94" cy="594.81" r="1.7" fill="#000"/>
<circle cx="324.94" cy="598.57" r="1.7" fill="#000"/>
<circle cx="324.94" cy="603.50" r="1.7" fill="#000"/>
<circle cx="324.94" cy="609.59" r="1.7" fill="#000"/>
<circle cx="324.94" cy="613.35" r="1.7" fill="#000"/>
<circle cx="324.94" cy="625.08" r="1.7" fill="#000"/>
<circle cx="324.94" cy="641.03" r="1.7" fill="#000"/>
<circle cx="324.94" cy="648.30" r="1.7" fill="#000"/>
<circle cx="324.94" cy="650.88" r="1.7" fill="#000"/>
<line x1="347.67" x2="347.67" y1="645.02" y2="677.63" stroke="#555" stroke-width="0.8"/>
<line x1="347.67" x2="347.67" y1="696.16" y2="700.38" stroke="#555" stroke-width="0.8"/>
<rect x="339.15" y="677.63" width="17.05" height="18.53" fill="#B3CDE3" stroke="#555" stroke-width="0.8"/>
<line x1="339.15" x2="356.19" y1="687.01" y2="687.01" stroke="#333" stroke-width="1.3"/>
<circle cx="347.67" cy="645.02" r="1.7" fill="#000"/>
<circle cx="347.67" cy="653.00" r="1.7" fill="#000"/>
<circle cx="347.67" cy="667.31" r="1.7" fill="#000"/>
<circle cx="347.67" cy="677.39" r="1.7" fill="#000"/>
<circle cx="347.67" cy="683.73" r="1.7" fill="#000"/>
<circle cx="347.67" cy="687.25" r="1.7" fill="#000"/>
<circle cx="347.67" cy="691.94" r="1.7" fill="#000"/>
<circle cx="347.67" cy="698.04" r="1.7" fill="#000"/>
<circle cx="347.67" cy="699.21" r="1.7" fill="#000"/>
<circle cx="347.67" cy="700.38" r="1.7" fill="#000"/>
<line x1="370.40" x2="370.40" y1="647.37" y2="659.80" stroke="#555" stroke-width="0.8"/>
<line x1="370.40" x2="370.40" y1="695.69" y2="698.74" stroke="#555" stroke-width="0.8"/>
<rect x="361.88" y="659.80" width="17.05" height="35.89" fill="#CCEBC5" stroke="#555" stroke-width="0.8"/>
<line x1="361.88" x2="378.92" y1="686.54" y2="686.54" stroke="#333" stroke-width="1.3"/>
<circle cx="370.40" cy="514.35" r="1.7" fill="#000"/>
<circle cx="370.40" cy="647.37" r="1.7" fill="#000"/>
<circle cx="370.40" cy="656.28" r="1.7" fill="#000"/>
<circle cx="370.40" cy="658.63" r="1.7" fill="#000"/>
<circle cx="370.40" cy="660.97" r="1.7" fill="#000"/>
<circle cx="370.40" cy="662.15" r="1.7" fill="#000"/>
<circle cx="370.40" cy="682.09" r="1.7" fill="#000"/>
<circle cx="370.40" cy="686.54" r="1.7" fill="#000"/>
<circle cx="370.40" cy="691.94" r="1.7" fill="#000"/>
<circle cx="370.40" cy="696.16" r="1.7" fill="#000"/>
<circle cx="370.40" cy="698.74" r="1.7" fill="#000"/>
<line x1="393.13" x2="393.13" y1="559.39" y2="618.27" stroke="#555" stroke-width="0.8"/>
<line x1="393.13" x2="393.13" y1="655.34" y2="688.89" stroke="#555" stroke-width="0.8"/>
<rect x="384.61" y="618.27" width="17.05" height="37.07" fill="#DECBE4" stroke="#555" stroke-width="0.8"/>
<line x1="384.61" x2="401.65" y1="636.10" y2="636.10" stroke="#333" stroke-width="1.3"/>
<circle cx="393.13" cy="559.39" r="1.7" fill="#000"/>
<circle cx="393.13" cy="568.31" r="1.7" fill="#000"/>
<circle cx="393.13" cy="578.16" r="1.7" fill="#000"/>
<circle cx="393.13" cy="618.27" r="1.7" fill="#000"/>
<circle cx="393.13" cy="623.20" r="1.7" fill="#000"/>
<circle cx="393.13" cy="633.52" r="1.7" fill="#000"/>
<circle cx="393.13" cy="636.10" r="1.7" fill="#000"/>
<circle cx="393.13" cy="640.09" r="1.7" fill="#000"/>
<circle cx="393.13" cy="652.29" r="1.7" fill="#000"/>
<circle cx="393.13" cy="656.28" r="1.7" fill="#000"/>
<circle cx="393.13" cy="658.63" r="1.7" fill="#000"/>
<circle cx="393.13" cy="675.05" r="1.7" fill="#000"/>
<circle cx="393.13" cy="688.89" r="1.7" fill="#000"/>
<line x1="415.86" x2="415.86" y1="565.72" y2="598.80" stroke="#555" stroke-width="0.8"/>
<line x1="415.86" x2="415.86" y1="637.28" y2="684.67" stroke="#555" stroke-width="0.8"/>
<rect x="407.34" y="598.80" width="17.05" height="38.47" fill="#FED9A6" stroke="#555" stroke-width="0.8"/>
<line x1="407.34" x2="424.39" y1="623.20" y2="623.20" stroke="#333" stroke-width="1.3"/>
<circle cx="415.86" cy="565.72" r="1.7" fill="#000"/>
<circle cx="415.86" cy="586.60" r="1.7" fill="#000"/>
<circle cx="415.86" cy="595.52" r="1.7" fill="#000"/>
<circle cx="415.86" cy="598.80" r="1.7" fill="#000"/>
<circle cx="415.86" cy="606.31" r="1.7" fill="#000"/>
<circle cx="415.86" cy="623.20" r="1.7" fill="#000"/>
<circle cx="415.86" cy="630.00" r="1.7" fill="#000"/>
<circle cx="415.86" cy="636.10" r="1.7" fill="#000"/>
<circle cx="415.86" cy="639.15" r="1.7" fill="#000"/>
<circle cx="415.86" cy="670.12" r="1.7" fill="#000"/>
<circle cx="415.86" cy="684.67" r="1.7" fill="#000"/>
<text x="311.50" y="434.30" font-size="9.2" textLength="109.10" lengthAdjust="spacingAndGlyphs" fill="#1a1a1a">Kruskal-Wallis, p = 6.1x10</text>
<text x="420.10" y="429.70" font-size="6.62" textLength="6.70" lengthAdjust="spacingAndGlyphs" fill="#1a1a1a">-8</text>
<circle cx="341.67" cy="452.10" r="0.95" fill="#222"/>
<circle cx="345.67" cy="452.10" r="0.95" fill="#222"/>
<circle cx="349.67" cy="452.10" r="0.95" fill="#222"/>
<circle cx="353.67" cy="452.10" r="0.95" fill="#222"/>
<circle cx="364.40" cy="452.10" r="0.95" fill="#222"/>
<circle cx="368.40" cy="452.10" r="0.95" fill="#222"/>
<circle cx="372.40" cy="452.10" r="0.95" fill="#222"/>
<circle cx="376.40" cy="452.10" r="0.95" fill="#222"/>
<text x="393.13" y="457.40" font-size="9.4" text-anchor="middle" fill="#1a1a1a">ns</text>
<text x="415.86" y="457.40" font-size="9.4" text-anchor="middle" fill="#1a1a1a">ns</text>
<rect x="311.30" y="396.25" width="118.20" height="23.15" fill="#d9d9d9"/>
<line x1="311.30" x2="429.50" y1="419.40" y2="419.40" stroke="#9a9a9a" stroke-width="1.5"/>
<text x="370.40" y="415.85" font-size="20" text-anchor="middle" fill="#000">NSL</text>
<rect x="311.30" y="396.25" width="118.20" height="320.15" fill="none" stroke="#7f7f7f" stroke-width="1.5"/>
<line x1="310.60" x2="430.20" y1="396.25" y2="396.25" stroke="#707070" stroke-width="1.1"/>
<line x1="324.94" x2="324.94" y1="716.40" y2="718.40" stroke="#888" stroke-width="0.8"/>
<line x1="347.67" x2="347.67" y1="716.40" y2="718.40" stroke="#888" stroke-width="0.8"/>
<line x1="370.40" x2="370.40" y1="716.40" y2="718.40" stroke="#888" stroke-width="0.8"/>
<line x1="393.13" x2="393.13" y1="716.40" y2="718.40" stroke="#888" stroke-width="0.8"/>
<line x1="415.86" x2="415.86" y1="716.40" y2="718.40" stroke="#888" stroke-width="0.8"/>
<rect x="433.25" y="419.40" width="118.20" height="297.00" fill="#fff"/>
<line x1="433.25" x2="551.45" y1="679.74" y2="679.74" stroke="#f4f4f4" stroke-width="0.6"/>
<line x1="433.25" x2="551.45" y1="632.82" y2="632.82" stroke="#f4f4f4" stroke-width="0.6"/>
<line x1="433.25" x2="551.45" y1="585.90" y2="585.90" stroke="#f4f4f4" stroke-width="0.6"/>
<line x1="433.25" x2="551.45" y1="538.98" y2="538.98" stroke="#f4f4f4" stroke-width="0.6"/>
<line x1="433.25" x2="551.45" y1="492.06" y2="492.06" stroke="#f4f4f4" stroke-width="0.6"/>
<line x1="433.25" x2="551.45" y1="445.14" y2="445.14" stroke="#f4f4f4" stroke-width="0.6"/>
<line x1="433.25" x2="551.45" y1="703.20" y2="703.20" stroke="#ececec" stroke-width="1"/>
<line x1="433.25" x2="551.45" y1="656.28" y2="656.28" stroke="#ececec" stroke-width="1"/>
<line x1="433.25" x2="551.45" y1="609.36" y2="609.36" stroke="#ececec" stroke-width="1"/>
<line x1="433.25" x2="551.45" y1="562.44" y2="562.44" stroke="#ececec" stroke-width="1"/>
<line x1="433.25" x2="551.45" y1="515.52" y2="515.52" stroke="#ececec" stroke-width="1"/>
<line x1="433.25" x2="551.45" y1="468.60" y2="468.60" stroke="#ececec" stroke-width="1"/>
<line x1="446.89" x2="446.89" y1="419.40" y2="716.40" stroke="#ececec" stroke-width="1"/>
<line x1="469.62" x2="469.62" y1="419.40" y2="716.40" stroke="#ececec" stroke-width="1"/>
<line x1="492.35" x2="492.35" y1="419.40" y2="716.40" stroke="#ececec" stroke-width="1"/>
<line x1="515.08" x2="515.08" y1="419.40" y2="716.40" stroke="#ececec" stroke-width="1"/>
<line x1="537.81" x2="537.81" y1="419.40" y2="716.40" stroke="#ececec" stroke-width="1"/>
<line x1="446.89" x2="446.89" y1="609.59" y2="628.60" stroke="#555" stroke-width="0.8"/>
<line x1="446.89" x2="446.89" y1="655.81" y2="673.41" stroke="#555" stroke-width="0.8"/>
<rect x="438.36" y="628.60" width="17.05" height="27.21" fill="#FBB4AE" stroke="#555" stroke-width="0.8"/>
<line x1="438.36" x2="455.41" y1="645.96" y2="645.96" stroke="#333" stroke-width="1.3"/>
<circle cx="446.89" cy="609.59" r="1.7" fill="#000"/>
<circle cx="446.89" cy="616.40" r="1.7" fill="#000"/>
<circle cx="446.89" cy="620.62" r="1.7" fill="#000"/>
<circle cx="446.89" cy="624.37" r="1.7" fill="#000"/>
<circle cx="446.89" cy="640.09" r="1.7" fill="#000"/>
<circle cx="446.89" cy="643.14" r="1.7" fill="#000"/>
<circle cx="446.89" cy="645.96" r="1.7" fill="#000"/>
<circle cx="446.89" cy="647.83" r="1.7" fill="#000"/>
<circle cx="446.89" cy="649.71" r="1.7" fill="#000"/>
<circle cx="446.89" cy="652.06" r="1.7" fill="#000"/>
<circle cx="446.89" cy="654.87" r="1.7" fill="#000"/>
<circle cx="446.89" cy="659.80" r="1.7" fill="#000"/>
<circle cx="446.89" cy="673.41" r="1.7" fill="#000"/>
<line x1="469.62" x2="469.62" y1="566.19" y2="592.70" stroke="#555" stroke-width="0.8"/>
<line x1="469.62" x2="469.62" y1="679.04" y2="703.20" stroke="#555" stroke-width="0.8"/>
<rect x="461.10" y="592.70" width="17.05" height="86.33" fill="#B3CDE3" stroke="#555" stroke-width="0.8"/>
<line x1="461.10" x2="478.14" y1="642.44" y2="642.44" stroke="#333" stroke-width="1.3"/>
<circle cx="469.62" cy="566.19" r="1.7" fill="#000"/>
<circle cx="469.62" cy="576.05" r="1.7" fill="#000"/>
<circle cx="469.62" cy="581.21" r="1.7" fill="#000"/>
<circle cx="469.62" cy="589.65" r="1.7" fill="#000"/>
<circle cx="469.62" cy="595.99" r="1.7" fill="#000"/>
<circle cx="469.62" cy="622.73" r="1.7" fill="#000"/>
<circle cx="469.62" cy="638.45" r="1.7" fill="#000"/>
<circle cx="469.62" cy="642.44" r="1.7" fill="#000"/>
<circle cx="469.62" cy="646.66" r="1.7" fill="#000"/>
<circle cx="469.62" cy="662.38" r="1.7" fill="#000"/>
<circle cx="469.62" cy="670.83" r="1.7" fill="#000"/>
<circle cx="469.62" cy="687.01" r="1.7" fill="#000"/>
<circle cx="469.62" cy="694.29" r="1.7" fill="#000"/>
<circle cx="469.62" cy="703.20" r="1.7" fill="#000"/>
<rect x="483.83" y="468.60" width="17.05" height="0.60" fill="#CCEBC5" stroke="#555" stroke-width="0.8"/>
<line x1="483.83" x2="500.87" y1="468.60" y2="468.60" stroke="#333" stroke-width="1.3"/>
<circle cx="492.35" cy="468.60" r="1.7" fill="#000"/>
<line x1="515.08" x2="515.08" y1="596.69" y2="614.52" stroke="#555" stroke-width="0.8"/>
<line x1="515.08" x2="515.08" y1="654.87" y2="694.29" stroke="#555" stroke-width="0.8"/>
<rect x="506.56" y="614.52" width="17.05" height="40.35" fill="#DECBE4" stroke="#555" stroke-width="0.8"/>
<line x1="506.56" x2="523.60" y1="632.59" y2="632.59" stroke="#333" stroke-width="1.3"/>
<circle cx="515.08" cy="596.69" r="1.7" fill="#000"/>
<circle cx="515.08" cy="603.50" r="1.7" fill="#000"/>
<circle cx="515.08" cy="607.01" r="1.7" fill="#000"/>
<circle cx="515.08" cy="612.88" r="1.7" fill="#000"/>
<circle cx="515.08" cy="620.15" r="1.7" fill="#000"/>
<circle cx="515.08" cy="623.20" r="1.7" fill="#000"/>
<circle cx="515.08" cy="633.05" r="1.7" fill="#000"/>
<circle cx="515.08" cy="645.49" r="1.7" fill="#000"/>
<circle cx="515.08" cy="653.93" r="1.7" fill="#000"/>
<circle cx="515.08" cy="655.81" r="1.7" fill="#000"/>
<circle cx="515.08" cy="690.30" r="1.7" fill="#000"/>
<circle cx="515.08" cy="692.88" r="1.7" fill="#000"/>
<circle cx="515.08" cy="694.29" r="1.7" fill="#000"/>
<line x1="537.81" x2="537.81" y1="571.59" y2="633.05" stroke="#555" stroke-width="0.8"/>
<line x1="537.81" x2="537.81" y1="685.84" y2="699.92" stroke="#555" stroke-width="0.8"/>
<rect x="529.29" y="633.05" width="17.05" height="52.78" fill="#FED9A6" stroke="#555" stroke-width="0.8"/>
<line x1="529.29" x2="546.34" y1="661.44" y2="661.44" stroke="#333" stroke-width="1.3"/>
<circle cx="537.81" cy="571.59" r="1.7" fill="#000"/>
<circle cx="537.81" cy="598.33" r="1.7" fill="#000"/>
<circle cx="537.81" cy="631.88" r="1.7" fill="#000"/>
<circle cx="537.81" cy="634.23" r="1.7" fill="#000"/>
<circle cx="537.81" cy="650.42" r="1.7" fill="#000"/>
<circle cx="537.81" cy="657.22" r="1.7" fill="#000"/>
<circle cx="537.81" cy="661.44" r="1.7" fill="#000"/>
<circle cx="537.81" cy="667.31" r="1.7" fill="#000"/>
<circle cx="537.81" cy="682.56" r="1.7" fill="#000"/>
<circle cx="537.81" cy="690.53" r="1.7" fill="#000"/>
<circle cx="537.81" cy="691.94" r="1.7" fill="#000"/>
<circle cx="537.81" cy="699.92" r="1.7" fill="#000"/>
<text x="434.80" y="434.30" font-size="9.2" textLength="108.80" lengthAdjust="spacingAndGlyphs" fill="#1a1a1a">Kruskal-Wallis, p = 1.8x10</text>
<text x="543.10" y="429.70" font-size="6.62" textLength="6.70" lengthAdjust="spacingAndGlyphs" fill="#1a1a1a">-7</text>
<text x="469.62" y="457.40" font-size="9.4" text-anchor="middle" fill="#1a1a1a">ns</text>
<circle cx="486.35" cy="452.10" r="0.95" fill="#222"/>
<circle cx="490.35" cy="452.10" r="0.95" fill="#222"/>
<circle cx="494.35" cy="452.10" r="0.95" fill="#222"/>
<circle cx="498.35" cy="452.10" r="0.95" fill="#222"/>
<text x="515.08" y="457.40" font-size="9.4" text-anchor="middle" fill="#1a1a1a">ns</text>
<text x="537.81" y="457.40" font-size="9.4" text-anchor="middle" fill="#1a1a1a">ns</text>
<rect x="433.25" y="396.25" width="118.20" height="23.15" fill="#d9d9d9"/>
<line x1="433.25" x2="551.45" y1="419.40" y2="419.40" stroke="#9a9a9a" stroke-width="1.5"/>
<text x="492.35" y="415.85" font-size="20" text-anchor="middle" fill="#000">PV</text>
<rect x="433.25" y="396.25" width="118.20" height="320.15" fill="none" stroke="#7f7f7f" stroke-width="1.5"/>
<line x1="432.55" x2="552.15" y1="396.25" y2="396.25" stroke="#707070" stroke-width="1.1"/>
<line x1="446.89" x2="446.89" y1="716.40" y2="718.40" stroke="#888" stroke-width="0.8"/>
<line x1="469.62" x2="469.62" y1="716.40" y2="718.40" stroke="#888" stroke-width="0.8"/>
<line x1="492.35" x2="492.35" y1="716.40" y2="718.40" stroke="#888" stroke-width="0.8"/>
<line x1="515.08" x2="515.08" y1="716.40" y2="718.40" stroke="#888" stroke-width="0.8"/>
<line x1="537.81" x2="537.81" y1="716.40" y2="718.40" stroke="#888" stroke-width="0.8"/>
<line x1="65.30" x2="67.30" y1="703.20" y2="703.20" stroke="#888" stroke-width="0.8"/>
<text x="64.20" y="710.50" font-size="19" text-anchor="end" fill="#000">0</text>
<line x1="65.30" x2="67.30" y1="656.28" y2="656.28" stroke="#888" stroke-width="0.8"/>
<text x="64.20" y="663.58" font-size="19" text-anchor="end" fill="#000">20</text>
<line x1="65.30" x2="67.30" y1="609.36" y2="609.36" stroke="#888" stroke-width="0.8"/>
<text x="64.20" y="616.66" font-size="19" text-anchor="end" fill="#000">40</text>
<line x1="65.30" x2="67.30" y1="562.44" y2="562.44" stroke="#888" stroke-width="0.8"/>
<text x="64.20" y="569.74" font-size="19" text-anchor="end" fill="#000">60</text>
<line x1="65.30" x2="67.30" y1="515.52" y2="515.52" stroke="#888" stroke-width="0.8"/>
<text x="64.20" y="522.82" font-size="19" text-anchor="end" fill="#000">80</text>
<line x1="65.30" x2="67.30" y1="468.60" y2="468.60" stroke="#888" stroke-width="0.8"/>
<text x="64.20" y="475.90" font-size="19" text-anchor="end" fill="#000">100</text>
<text x="41.2" y="755.8" font-size="24.5" textLength="16.0" lengthAdjust="spacingAndGlyphs" fill="#000">C</text>
<text x="248.4" y="753.7" font-size="21" textLength="94.8" lengthAdjust="spacingAndGlyphs" fill="#000">Open field</text>
<rect x="70.00" y="784.60" width="117.50" height="298.80" fill="#fff"/>
<line x1="70.00" x2="187.50" y1="1046.66" y2="1046.66" stroke="#f4f4f4" stroke-width="0.6"/>
<line x1="70.00" x2="187.50" y1="999.38" y2="999.38" stroke="#f4f4f4" stroke-width="0.6"/>
<line x1="70.00" x2="187.50" y1="952.10" y2="952.10" stroke="#f4f4f4" stroke-width="0.6"/>
<line x1="70.00" x2="187.50" y1="904.82" y2="904.82" stroke="#f4f4f4" stroke-width="0.6"/>
<line x1="70.00" x2="187.50" y1="857.54" y2="857.54" stroke="#f4f4f4" stroke-width="0.6"/>
<line x1="70.00" x2="187.50" y1="810.26" y2="810.26" stroke="#f4f4f4" stroke-width="0.6"/>
<line x1="70.00" x2="187.50" y1="1070.30" y2="1070.30" stroke="#ececec" stroke-width="1"/>
<line x1="70.00" x2="187.50" y1="1023.02" y2="1023.02" stroke="#ececec" stroke-width="1"/>
<line x1="70.00" x2="187.50" y1="975.74" y2="975.74" stroke="#ececec" stroke-width="1"/>
<line x1="70.00" x2="187.50" y1="928.46" y2="928.46" stroke="#ececec" stroke-width="1"/>
<line x1="70.00" x2="187.50" y1="881.18" y2="881.18" stroke="#ececec" stroke-width="1"/>
<line x1="70.00" x2="187.50" y1="833.90" y2="833.90" stroke="#ececec" stroke-width="1"/>
<line x1="83.56" x2="83.56" y1="784.60" y2="1083.40" stroke="#ececec" stroke-width="1"/>
<line x1="106.15" x2="106.15" y1="784.60" y2="1083.40" stroke="#ececec" stroke-width="1"/>
<line x1="128.75" x2="128.75" y1="784.60" y2="1083.40" stroke="#ececec" stroke-width="1"/>
<line x1="151.35" x2="151.35" y1="784.60" y2="1083.40" stroke="#ececec" stroke-width="1"/>
<line x1="173.94" x2="173.94" y1="784.60" y2="1083.40" stroke="#ececec" stroke-width="1"/>
<line x1="83.56" x2="83.56" y1="975.50" y2="1027.75" stroke="#555" stroke-width="0.8"/>
<line x1="83.56" x2="83.56" y1="1070.06" y2="1070.30" stroke="#555" stroke-width="0.8"/>
<rect x="75.08" y="1027.75" width="16.95" height="42.32" fill="#FBB4AE" stroke="#555" stroke-width="0.8"/>
<line x1="75.08" x2="92.03" y1="1066.28" y2="1066.28" stroke="#333" stroke-width="1.3"/>
<circle cx="83.56" cy="975.50" r="1.7" fill="#000"/>
<circle cx="83.56" cy="1004.34" r="1.7" fill="#000"/>
<circle cx="83.56" cy="1027.75" r="1.7" fill="#000"/>
<circle cx="83.56" cy="1057.30" r="1.7" fill="#000"/>
<circle cx="83.56" cy="1066.28" r="1.7" fill="#000"/>
<circle cx="83.56" cy="1070.30" r="1.7" fill="#000"/>
<line x1="106.15" x2="106.15" y1="1054.70" y2="1061.79" stroke="#555" stroke-width="0.8"/>
<rect x="97.68" y="1061.79" width="16.95" height="8.51" fill="#B3CDE3" stroke="#555" stroke-width="0.8"/>
<line x1="97.68" x2="114.63" y1="1070.06" y2="1070.06" stroke="#333" stroke-width="1.3"/>
<circle cx="106.15" cy="1039.80" r="1.7" fill="#000"/>
<circle cx="106.15" cy="1054.70" r="1.7" fill="#000"/>
<circle cx="106.15" cy="1064.39" r="1.7" fill="#000"/>
<circle cx="106.15" cy="1070.30" r="1.7" fill="#000"/>
<line x1="128.75" x2="128.75" y1="1060.13" y2="1064.63" stroke="#555" stroke-width="0.8"/>
<rect x="120.28" y="1064.63" width="16.95" height="5.67" fill="#CCEBC5" stroke="#555" stroke-width="0.8"/>
<line x1="120.28" x2="137.22" y1="1067.94" y2="1067.94" stroke="#333" stroke-width="1.3"/>
<circle cx="128.75" cy="1060.13" r="1.7" fill="#000"/>
<circle cx="128.75" cy="1062.74" r="1.7" fill="#000"/>
<circle cx="128.75" cy="1065.57" r="1.7" fill="#000"/>
<circle cx="128.75" cy="1066.99" r="1.7" fill="#000"/>
<circle cx="128.75" cy="1070.30" r="1.7" fill="#000"/>
<rect x="142.87" y="1067.23" width="16.95" height="3.07" fill="#DECBE4" stroke="#555" stroke-width="0.8"/>
<line x1="142.87" x2="159.82" y1="1069.35" y2="1069.35" stroke="#333" stroke-width="1.3"/>
<circle cx="151.35" cy="980.23" r="1.7" fill="#000"/>
<circle cx="151.35" cy="1050.21" r="1.7" fill="#000"/>
<circle cx="151.35" cy="1067.23" r="1.7" fill="#000"/>
<circle cx="151.35" cy="1070.30" r="1.7" fill="#000"/>
<line x1="173.94" x2="173.94" y1="1057.06" y2="1064.15" stroke="#555" stroke-width="0.8"/>
<rect x="165.47" y="1064.15" width="16.95" height="6.15" fill="#FED9A6" stroke="#555" stroke-width="0.8"/>
<line x1="165.47" x2="182.42" y1="1067.94" y2="1067.94" stroke="#333" stroke-width="1.3"/>
<circle cx="173.94" cy="1057.06" r="1.7" fill="#000"/>
<circle cx="173.94" cy="1062.74" r="1.7" fill="#000"/>
<circle cx="173.94" cy="1064.15" r="1.7" fill="#000"/>
<circle cx="173.94" cy="1065.57" r="1.7" fill="#000"/>
<circle cx="173.94" cy="1070.30" r="1.7" fill="#000"/>
<text x="76.70" y="799.20" font-size="9.3" textLength="97.60" lengthAdjust="spacingAndGlyphs" fill="#1a1a1a">Kruskal-Wallis, p = 0.53</text>
<text x="106.15" y="822.80" font-size="9.6" text-anchor="middle" fill="#1a1a1a">ns</text>
<text x="128.75" y="822.80" font-size="9.6" text-anchor="middle" fill="#1a1a1a">ns</text>
<text x="151.35" y="822.80" font-size="9.6" text-anchor="middle" fill="#1a1a1a">ns</text>
<text x="173.94" y="822.80" font-size="9.6" text-anchor="middle" fill="#1a1a1a">ns</text>
<rect x="70.00" y="761.25" width="117.50" height="23.35" fill="#d9d9d9"/>
<line x1="70.00" x2="187.50" y1="784.60" y2="784.60" stroke="#9a9a9a" stroke-width="1.5"/>
<text x="128.75" y="780.85" font-size="20" text-anchor="middle" fill="#000">FJM</text>
<rect x="70.00" y="761.25" width="117.50" height="322.15" fill="none" stroke="#7f7f7f" stroke-width="1.5"/>
<line x1="69.30" x2="188.20" y1="761.25" y2="761.25" stroke="#707070" stroke-width="1.1"/>
<line x1="83.56" x2="83.56" y1="1083.40" y2="1085.40" stroke="#888" stroke-width="0.8"/>
<line x1="106.15" x2="106.15" y1="1083.40" y2="1085.40" stroke="#888" stroke-width="0.8"/>
<line x1="128.75" x2="128.75" y1="1083.40" y2="1085.40" stroke="#888" stroke-width="0.8"/>
<line x1="151.35" x2="151.35" y1="1083.40" y2="1085.40" stroke="#888" stroke-width="0.8"/>
<line x1="173.94" x2="173.94" y1="1083.40" y2="1085.40" stroke="#888" stroke-width="0.8"/>
<text x="92.26" y="1096.90" font-size="12.6" text-anchor="end" transform="rotate(-45 92.26 1096.90)" fill="#1a1a1a">Control</text>
<text x="114.85" y="1096.90" font-size="12.6" text-anchor="end" transform="rotate(-45 114.85 1096.90)" fill="#1a1a1a">B6</text>
<text x="137.45" y="1096.90" font-size="12.6" text-anchor="end" transform="rotate(-45 137.45 1096.90)" fill="#1a1a1a">MK1</text>
<text x="160.05" y="1096.90" font-size="12.6" text-anchor="end" transform="rotate(-45 160.05 1096.90)" fill="#1a1a1a">P1</text>
<text x="182.64" y="1096.90" font-size="12.6" text-anchor="end" transform="rotate(-45 182.64 1096.90)" fill="#1a1a1a">T22</text>
<rect x="191.30" y="784.60" width="117.50" height="298.80" fill="#fff"/>
<line x1="191.30" x2="308.80" y1="1046.66" y2="1046.66" stroke="#f4f4f4" stroke-width="0.6"/>
<line x1="191.30" x2="308.80" y1="999.38" y2="999.38" stroke="#f4f4f4" stroke-width="0.6"/>
<line x1="191.30" x2="308.80" y1="952.10" y2="952.10" stroke="#f4f4f4" stroke-width="0.6"/>
<line x1="191.30" x2="308.80" y1="904.82" y2="904.82" stroke="#f4f4f4" stroke-width="0.6"/>
<line x1="191.30" x2="308.80" y1="857.54" y2="857.54" stroke="#f4f4f4" stroke-width="0.6"/>
<line x1="191.30" x2="308.80" y1="810.26" y2="810.26" stroke="#f4f4f4" stroke-width="0.6"/>
<line x1="191.30" x2="308.80" y1="1070.30" y2="1070.30" stroke="#ececec" stroke-width="1"/>
<line x1="191.30" x2="308.80" y1="1023.02" y2="1023.02" stroke="#ececec" stroke-width="1"/>
<line x1="191.30" x2="308.80" y1="975.74" y2="975.74" stroke="#ececec" stroke-width="1"/>
<line x1="191.30" x2="308.80" y1="928.46" y2="928.46" stroke="#ececec" stroke-width="1"/>
<line x1="191.30" x2="308.80" y1="881.18" y2="881.18" stroke="#ececec" stroke-width="1"/>
<line x1="191.30" x2="308.80" y1="833.90" y2="833.90" stroke="#ececec" stroke-width="1"/>
<line x1="204.86" x2="204.86" y1="784.60" y2="1083.40" stroke="#ececec" stroke-width="1"/>
<line x1="227.45" x2="227.45" y1="784.60" y2="1083.40" stroke="#ececec" stroke-width="1"/>
<line x1="250.05" x2="250.05" y1="784.60" y2="1083.40" stroke="#ececec" stroke-width="1"/>
<line x1="272.65" x2="272.65" y1="784.60" y2="1083.40" stroke="#ececec" stroke-width="1"/>
<line x1="295.24" x2="295.24" y1="784.60" y2="1083.40" stroke="#ececec" stroke-width="1"/>
<line x1="204.86" x2="204.86" y1="1053.04" y2="1061.79" stroke="#555" stroke-width="0.8"/>
<rect x="196.38" y="1061.79" width="16.95" height="8.51" fill="#FBB4AE" stroke="#555" stroke-width="0.8"/>
<line x1="196.38" x2="213.33" y1="1068.41" y2="1068.41" stroke="#333" stroke-width="1.3"/>
<circle cx="204.86" cy="1053.04" r="1.7" fill="#000"/>
<circle cx="204.86" cy="1054.93" r="1.7" fill="#000"/>
<circle cx="204.86" cy="1057.06" r="1.7" fill="#000"/>
<circle cx="204.86" cy="1058.95" r="1.7" fill="#000"/>
<circle cx="204.86" cy="1061.79" r="1.7" fill="#000"/>
<circle cx="204.86" cy="1063.68" r="1.7" fill="#000"/>
<circle cx="204.86" cy="1065.81" r="1.7" fill="#000"/>
<circle cx="204.86" cy="1067.70" r="1.7" fill="#000"/>
<circle cx="204.86" cy="1070.30" r="1.7" fill="#000"/>
<rect x="218.98" y="1070.06" width="16.95" height="0.60" fill="#B3CDE3" stroke="#555" stroke-width="0.8"/>
<line x1="218.98" x2="235.93" y1="1070.18" y2="1070.18" stroke="#333" stroke-width="1.3"/>
<circle cx="227.45" cy="1060.13" r="1.7" fill="#000"/>
<circle cx="227.45" cy="1065.10" r="1.7" fill="#000"/>
<circle cx="227.45" cy="1070.30" r="1.7" fill="#000"/>
<line x1="250.05" x2="250.05" y1="1057.30" y2="1065.10" stroke="#555" stroke-width="0.8"/>
<rect x="241.58" y="1065.10" width="16.95" height="5.20" fill="#CCEBC5" stroke="#555" stroke-width="0.8"/>
<line x1="241.58" x2="258.52" y1="1067.94" y2="1067.94" stroke="#333" stroke-width="1.3"/>
<circle cx="250.05" cy="1057.30" r="1.7" fill="#000"/>
<circle cx="250.05" cy="1059.43" r="1.7" fill="#000"/>
<circle cx="250.05" cy="1061.55" r="1.7" fill="#000"/>
<circle cx="250.05" cy="1063.68" r="1.7" fill="#000"/>
<circle cx="250.05" cy="1065.10" r="1.7" fill="#000"/>
<circle cx="250.05" cy="1067.23" r="1.7" fill="#000"/>
<circle cx="250.05" cy="1069.12" r="1.7" fill="#000"/>
<circle cx="250.05" cy="1070.30" r="1.7" fill="#000"/>
<rect x="264.17" y="1065.81" width="16.95" height="4.49" fill="#DECBE4" stroke="#555" stroke-width="0.8"/>
<line x1="264.17" x2="281.12" y1="1068.41" y2="1068.41" stroke="#333" stroke-width="1.3"/>
<circle cx="272.65" cy="1040.28" r="1.7" fill="#000"/>
<circle cx="272.65" cy="1051.86" r="1.7" fill="#000"/>
<circle cx="272.65" cy="1060.37" r="1.7" fill="#000"/>
<circle cx="272.65" cy="1063.68" r="1.7" fill="#000"/>
<circle cx="272.65" cy="1065.81" r="1.7" fill="#000"/>
<circle cx="272.65" cy="1067.70" r="1.7" fill="#000"/>
<circle cx="272.65" cy="1070.30" r="1.7" fill="#000"/>
<rect x="286.77" y="1066.04" width="16.95" height="4.26" fill="#FED9A6" stroke="#555" stroke-width="0.8"/>
<line x1="286.77" x2="303.72" y1="1069.12" y2="1069.12" stroke="#333" stroke-width="1.3"/>
<circle cx="295.24" cy="981.65" r="1.7" fill="#000"/>
<circle cx="295.24" cy="1055.64" r="1.7" fill="#000"/>
<circle cx="295.24" cy="1058.01" r="1.7" fill="#000"/>
<circle cx="295.24" cy="1062.97" r="1.7" fill="#000"/>
<circle cx="295.24" cy="1066.99" r="1.7" fill="#000"/>
<circle cx="295.24" cy="1070.30" r="1.7" fill="#000"/>
<text x="199.80" y="799.20" font-size="9.3" textLength="97.60" lengthAdjust="spacingAndGlyphs" fill="#1a1a1a">Kruskal-Wallis, p = 0.14</text>
<circle cx="227.45" cy="817.50" r="0.95" fill="#222"/>
<text x="250.05" y="822.80" font-size="9.6" text-anchor="middle" fill="#1a1a1a">ns</text>
<text x="272.65" y="822.80" font-size="9.6" text-anchor="middle" fill="#1a1a1a">ns</text>
<text x="295.24" y="822.80" font-size="9.6" text-anchor="middle" fill="#1a1a1a">ns</text>
<rect x="191.30" y="761.25" width="117.50" height="23.35" fill="#d9d9d9"/>
<line x1="191.30" x2="308.80" y1="784.60" y2="784.60" stroke="#9a9a9a" stroke-width="1.5"/>
<text x="250.05" y="780.85" font-size="20" text-anchor="middle" fill="#000">FMA</text>
<rect x="191.30" y="761.25" width="117.50" height="322.15" fill="none" stroke="#7f7f7f" stroke-width="1.5"/>
<line x1="190.60" x2="309.50" y1="761.25" y2="761.25" stroke="#707070" stroke-width="1.1"/>
<line x1="204.86" x2="204.86" y1="1083.40" y2="1085.40" stroke="#888" stroke-width="0.8"/>
<line x1="227.45" x2="227.45" y1="1083.40" y2="1085.40" stroke="#888" stroke-width="0.8"/>
<line x1="250.05" x2="250.05" y1="1083.40" y2="1085.40" stroke="#888" stroke-width="0.8"/>
<line x1="272.65" x2="272.65" y1="1083.40" y2="1085.40" stroke="#888" stroke-width="0.8"/>
<line x1="295.24" x2="295.24" y1="1083.40" y2="1085.40" stroke="#888" stroke-width="0.8"/>
<text x="213.56" y="1096.90" font-size="12.6" text-anchor="end" transform="rotate(-45 213.56 1096.90)" fill="#1a1a1a">Control</text>
<text x="236.15" y="1096.90" font-size="12.6" text-anchor="end" transform="rotate(-45 236.15 1096.90)" fill="#1a1a1a">B6</text>
<text x="258.75" y="1096.90" font-size="12.6" text-anchor="end" transform="rotate(-45 258.75 1096.90)" fill="#1a1a1a">MK1</text>
<text x="281.35" y="1096.90" font-size="12.6" text-anchor="end" transform="rotate(-45 281.35 1096.90)" fill="#1a1a1a">P1</text>
<text x="303.94" y="1096.90" font-size="12.6" text-anchor="end" transform="rotate(-45 303.94 1096.90)" fill="#1a1a1a">T22</text>
<rect x="312.70" y="784.60" width="117.50" height="298.80" fill="#fff"/>
<line x1="312.70" x2="430.20" y1="1046.66" y2="1046.66" stroke="#f4f4f4" stroke-width="0.6"/>
<line x1="312.70" x2="430.20" y1="999.38" y2="999.38" stroke="#f4f4f4" stroke-width="0.6"/>
<line x1="312.70" x2="430.20" y1="952.10" y2="952.10" stroke="#f4f4f4" stroke-width="0.6"/>
<line x1="312.70" x2="430.20" y1="904.82" y2="904.82" stroke="#f4f4f4" stroke-width="0.6"/>
<line x1="312.70" x2="430.20" y1="857.54" y2="857.54" stroke="#f4f4f4" stroke-width="0.6"/>
<line x1="312.70" x2="430.20" y1="810.26" y2="810.26" stroke="#f4f4f4" stroke-width="0.6"/>
<line x1="312.70" x2="430.20" y1="1070.30" y2="1070.30" stroke="#ececec" stroke-width="1"/>
<line x1="312.70" x2="430.20" y1="1023.02" y2="1023.02" stroke="#ececec" stroke-width="1"/>
<line x1="312.70" x2="430.20" y1="975.74" y2="975.74" stroke="#ececec" stroke-width="1"/>
<line x1="312.70" x2="430.20" y1="928.46" y2="928.46" stroke="#ececec" stroke-width="1"/>
<line x1="312.70" x2="430.20" y1="881.18" y2="881.18" stroke="#ececec" stroke-width="1"/>
<line x1="312.70" x2="430.20" y1="833.90" y2="833.90" stroke="#ececec" stroke-width="1"/>
<line x1="326.26" x2="326.26" y1="784.60" y2="1083.40" stroke="#ececec" stroke-width="1"/>
<line x1="348.85" x2="348.85" y1="784.60" y2="1083.40" stroke="#ececec" stroke-width="1"/>
<line x1="371.45" x2="371.45" y1="784.60" y2="1083.40" stroke="#ececec" stroke-width="1"/>
<line x1="394.05" x2="394.05" y1="784.60" y2="1083.40" stroke="#ececec" stroke-width="1"/>
<line x1="416.64" x2="416.64" y1="784.60" y2="1083.40" stroke="#ececec" stroke-width="1"/>
<line x1="326.26" x2="326.26" y1="1054.22" y2="1061.32" stroke="#555" stroke-width="0.8"/>
<rect x="317.78" y="1061.32" width="16.95" height="8.75" fill="#FBB4AE" stroke="#555" stroke-width="0.8"/>
<line x1="317.78" x2="334.73" y1="1065.81" y2="1065.81" stroke="#333" stroke-width="1.3"/>
<circle cx="326.26" cy="1043.59" r="1.7" fill="#000"/>
<circle cx="326.26" cy="1049.26" r="1.7" fill="#000"/>
<circle cx="326.26" cy="1050.68" r="1.7" fill="#000"/>
<circle cx="326.26" cy="1052.33" r="1.7" fill="#000"/>
<circle cx="326.26" cy="1054.22" r="1.7" fill="#000"/>
<circle cx="326.26" cy="1061.32" r="1.7" fill="#000"/>
<circle cx="326.26" cy="1062.74" r="1.7" fill="#000"/>
<circle cx="326.26" cy="1064.39" r="1.7" fill="#000"/>
<circle cx="326.26" cy="1065.81" r="1.7" fill="#000"/>
<circle cx="326.26" cy="1067.23" r="1.7" fill="#000"/>
<circle cx="326.26" cy="1068.65" r="1.7" fill="#000"/>
<circle cx="326.26" cy="1070.06" r="1.7" fill="#000"/>
<rect x="340.38" y="1070.06" width="16.95" height="0.60" fill="#B3CDE3" stroke="#555" stroke-width="0.8"/>
<line x1="340.38" x2="357.33" y1="1070.18" y2="1070.18" stroke="#333" stroke-width="1.3"/>
<circle cx="348.85" cy="1063.68" r="1.7" fill="#000"/>
<circle cx="348.85" cy="1066.99" r="1.7" fill="#000"/>
<circle cx="348.85" cy="1068.65" r="1.7" fill="#000"/>
<circle cx="348.85" cy="1070.30" r="1.7" fill="#000"/>
<rect x="362.98" y="1070.06" width="16.95" height="0.60" fill="#CCEBC5" stroke="#555" stroke-width="0.8"/>
<line x1="362.98" x2="379.92" y1="1070.18" y2="1070.18" stroke="#333" stroke-width="1.3"/>
<circle cx="371.45" cy="1058.72" r="1.7" fill="#000"/>
<circle cx="371.45" cy="1062.26" r="1.7" fill="#000"/>
<circle cx="371.45" cy="1066.28" r="1.7" fill="#000"/>
<circle cx="371.45" cy="1067.70" r="1.7" fill="#000"/>
<circle cx="371.45" cy="1070.30" r="1.7" fill="#000"/>
<rect x="385.57" y="1070.06" width="16.95" height="0.60" fill="#DECBE4" stroke="#555" stroke-width="0.8"/>
<line x1="385.57" x2="402.52" y1="1070.18" y2="1070.18" stroke="#333" stroke-width="1.3"/>
<circle cx="394.05" cy="1067.70" r="1.7" fill="#000"/>
<circle cx="394.05" cy="1068.88" r="1.7" fill="#000"/>
<circle cx="394.05" cy="1070.30" r="1.7" fill="#000"/>
<rect x="408.17" y="1070.06" width="16.95" height="0.60" fill="#FED9A6" stroke="#555" stroke-width="0.8"/>
<line x1="408.17" x2="425.12" y1="1070.18" y2="1070.18" stroke="#333" stroke-width="1.3"/>
<circle cx="416.64" cy="1039.10" r="1.7" fill="#000"/>
<circle cx="416.64" cy="1065.34" r="1.7" fill="#000"/>
<circle cx="416.64" cy="1068.65" r="1.7" fill="#000"/>
<circle cx="416.64" cy="1070.30" r="1.7" fill="#000"/>
<text x="313.90" y="799.20" font-size="9.3" textLength="108.50" lengthAdjust="spacingAndGlyphs" fill="#1a1a1a">Kruskal-Wallis, p = 4.4x10</text>
<text x="421.80" y="794.60" font-size="6.70" textLength="6.20" lengthAdjust="spacingAndGlyphs" fill="#1a1a1a">-4</text>
<circle cx="346.80" cy="817.50" r="0.95" fill="#222"/>
<circle cx="350.90" cy="817.50" r="0.95" fill="#222"/>
<circle cx="369.40" cy="817.50" r="0.95" fill="#222"/>
<circle cx="373.50" cy="817.50" r="0.95" fill="#222"/>
<circle cx="389.95" cy="817.50" r="0.95" fill="#222"/>
<circle cx="394.05" cy="817.50" r="0.95" fill="#222"/>
<circle cx="398.15" cy="817.50" r="0.95" fill="#222"/>
<circle cx="414.59" cy="817.50" r="0.95" fill="#222"/>
<circle cx="418.69" cy="817.50" r="0.95" fill="#222"/>
<rect x="312.70" y="761.25" width="117.50" height="23.35" fill="#d9d9d9"/>
<line x1="312.70" x2="430.20" y1="784.60" y2="784.60" stroke="#9a9a9a" stroke-width="1.5"/>
<text x="371.45" y="780.85" font-size="20" text-anchor="middle" fill="#000">NSL</text>
<rect x="312.70" y="761.25" width="117.50" height="322.15" fill="none" stroke="#7f7f7f" stroke-width="1.5"/>
<line x1="312.00" x2="430.90" y1="761.25" y2="761.25" stroke="#707070" stroke-width="1.1"/>
<line x1="326.26" x2="326.26" y1="1083.40" y2="1085.40" stroke="#888" stroke-width="0.8"/>
<line x1="348.85" x2="348.85" y1="1083.40" y2="1085.40" stroke="#888" stroke-width="0.8"/>
<line x1="371.45" x2="371.45" y1="1083.40" y2="1085.40" stroke="#888" stroke-width="0.8"/>
<line x1="394.05" x2="394.05" y1="1083.40" y2="1085.40" stroke="#888" stroke-width="0.8"/>
<line x1="416.64" x2="416.64" y1="1083.40" y2="1085.40" stroke="#888" stroke-width="0.8"/>
<text x="334.96" y="1096.90" font-size="12.6" text-anchor="end" transform="rotate(-45 334.96 1096.90)" fill="#1a1a1a">Control</text>
<text x="357.55" y="1096.90" font-size="12.6" text-anchor="end" transform="rotate(-45 357.55 1096.90)" fill="#1a1a1a">B6</text>
<text x="380.15" y="1096.90" font-size="12.6" text-anchor="end" transform="rotate(-45 380.15 1096.90)" fill="#1a1a1a">MK1</text>
<text x="402.75" y="1096.90" font-size="12.6" text-anchor="end" transform="rotate(-45 402.75 1096.90)" fill="#1a1a1a">P1</text>
<text x="425.34" y="1096.90" font-size="12.6" text-anchor="end" transform="rotate(-45 425.34 1096.90)" fill="#1a1a1a">T22</text>
<rect x="434.00" y="784.60" width="117.50" height="298.80" fill="#fff"/>
<line x1="434.00" x2="551.50" y1="1046.66" y2="1046.66" stroke="#f4f4f4" stroke-width="0.6"/>
<line x1="434.00" x2="551.50" y1="999.38" y2="999.38" stroke="#f4f4f4" stroke-width="0.6"/>
<line x1="434.00" x2="551.50" y1="952.10" y2="952.10" stroke="#f4f4f4" stroke-width="0.6"/>
<line x1="434.00" x2="551.50" y1="904.82" y2="904.82" stroke="#f4f4f4" stroke-width="0.6"/>
<line x1="434.00" x2="551.50" y1="857.54" y2="857.54" stroke="#f4f4f4" stroke-width="0.6"/>
<line x1="434.00" x2="551.50" y1="810.26" y2="810.26" stroke="#f4f4f4" stroke-width="0.6"/>
<line x1="434.00" x2="551.50" y1="1070.30" y2="1070.30" stroke="#ececec" stroke-width="1"/>
<line x1="434.00" x2="551.50" y1="1023.02" y2="1023.02" stroke="#ececec" stroke-width="1"/>
<line x1="434.00" x2="551.50" y1="975.74" y2="975.74" stroke="#ececec" stroke-width="1"/>
<line x1="434.00" x2="551.50" y1="928.46" y2="928.46" stroke="#ececec" stroke-width="1"/>
<line x1="434.00" x2="551.50" y1="881.18" y2="881.18" stroke="#ececec" stroke-width="1"/>
<line x1="434.00" x2="551.50" y1="833.90" y2="833.90" stroke="#ececec" stroke-width="1"/>
<line x1="447.56" x2="447.56" y1="784.60" y2="1083.40" stroke="#ececec" stroke-width="1"/>
<line x1="470.15" x2="470.15" y1="784.60" y2="1083.40" stroke="#ececec" stroke-width="1"/>
<line x1="492.75" x2="492.75" y1="784.60" y2="1083.40" stroke="#ececec" stroke-width="1"/>
<line x1="515.35" x2="515.35" y1="784.60" y2="1083.40" stroke="#ececec" stroke-width="1"/>
<line x1="537.94" x2="537.94" y1="784.60" y2="1083.40" stroke="#ececec" stroke-width="1"/>
<rect x="439.08" y="1070.06" width="16.95" height="0.60" fill="#FBB4AE" stroke="#555" stroke-width="0.8"/>
<line x1="439.08" x2="456.03" y1="1070.18" y2="1070.18" stroke="#333" stroke-width="1.3"/>
<circle cx="447.56" cy="1067.70" r="1.7" fill="#000"/>
<circle cx="447.56" cy="1068.88" r="1.7" fill="#000"/>
<circle cx="447.56" cy="1070.30" r="1.7" fill="#000"/>
<rect x="461.68" y="1070.06" width="16.95" height="0.60" fill="#B3CDE3" stroke="#555" stroke-width="0.8"/>
<line x1="461.68" x2="478.63" y1="1070.18" y2="1070.18" stroke="#333" stroke-width="1.3"/>
<circle cx="470.15" cy="1068.88" r="1.7" fill="#000"/>
<circle cx="470.15" cy="1070.30" r="1.7" fill="#000"/>
<rect x="484.28" y="1070.06" width="16.95" height="0.60" fill="#CCEBC5" stroke="#555" stroke-width="0.8"/>
<line x1="484.28" x2="501.22" y1="1070.18" y2="1070.18" stroke="#333" stroke-width="1.3"/>
<circle cx="492.75" cy="1063.68" r="1.7" fill="#000"/>
<circle cx="492.75" cy="1065.57" r="1.7" fill="#000"/>
<circle cx="492.75" cy="1067.70" r="1.7" fill="#000"/>
<circle cx="492.75" cy="1070.30" r="1.7" fill="#000"/>
<line x1="515.35" x2="515.35" y1="1062.26" y2="1064.39" stroke="#555" stroke-width="0.8"/>
<rect x="506.87" y="1064.39" width="16.95" height="4.96" fill="#DECBE4" stroke="#555" stroke-width="0.8"/>
<line x1="506.87" x2="523.82" y1="1066.99" y2="1066.99" stroke="#333" stroke-width="1.3"/>
<circle cx="515.35" cy="1036.26" r="1.7" fill="#000"/>
<circle cx="515.35" cy="1062.26" r="1.7" fill="#000"/>
<circle cx="515.35" cy="1064.39" r="1.7" fill="#000"/>
<circle cx="515.35" cy="1066.04" r="1.7" fill="#000"/>
<circle cx="515.35" cy="1067.70" r="1.7" fill="#000"/>
<circle cx="515.35" cy="1069.35" r="1.7" fill="#000"/>
<circle cx="515.35" cy="1070.30" r="1.7" fill="#000"/>
<rect x="529.47" y="1065.81" width="16.95" height="4.49" fill="#FED9A6" stroke="#555" stroke-width="0.8"/>
<line x1="529.47" x2="546.42" y1="1068.41" y2="1068.41" stroke="#333" stroke-width="1.3"/>
<circle cx="537.94" cy="1055.64" r="1.7" fill="#000"/>
<circle cx="537.94" cy="1062.74" r="1.7" fill="#000"/>
<circle cx="537.94" cy="1065.81" r="1.7" fill="#000"/>
<circle cx="537.94" cy="1070.30" r="1.7" fill="#000"/>
<text x="441.00" y="799.20" font-size="9.3" textLength="103.00" lengthAdjust="spacingAndGlyphs" fill="#1a1a1a">Kruskal-Wallis, p = 0.026</text>
<text x="470.15" y="822.80" font-size="9.6" text-anchor="middle" fill="#1a1a1a">ns</text>
<text x="492.75" y="822.80" font-size="9.6" text-anchor="middle" fill="#1a1a1a">ns</text>
<circle cx="513.30" cy="817.50" r="0.95" fill="#222"/>
<circle cx="517.40" cy="817.50" r="0.95" fill="#222"/>
<circle cx="537.94" cy="817.50" r="0.95" fill="#222"/>
<rect x="434.00" y="761.25" width="117.50" height="23.35" fill="#d9d9d9"/>
<line x1="434.00" x2="551.50" y1="784.60" y2="784.60" stroke="#9a9a9a" stroke-width="1.5"/>
<text x="492.75" y="780.85" font-size="20" text-anchor="middle" fill="#000">PV</text>
<rect x="434.00" y="761.25" width="117.50" height="322.15" fill="none" stroke="#7f7f7f" stroke-width="1.5"/>
<line x1="433.30" x2="552.20" y1="761.25" y2="761.25" stroke="#707070" stroke-width="1.1"/>
<line x1="447.56" x2="447.56" y1="1083.40" y2="1085.40" stroke="#888" stroke-width="0.8"/>
<line x1="470.15" x2="470.15" y1="1083.40" y2="1085.40" stroke="#888" stroke-width="0.8"/>
<line x1="492.75" x2="492.75" y1="1083.40" y2="1085.40" stroke="#888" stroke-width="0.8"/>
<line x1="515.35" x2="515.35" y1="1083.40" y2="1085.40" stroke="#888" stroke-width="0.8"/>
<line x1="537.94" x2="537.94" y1="1083.40" y2="1085.40" stroke="#888" stroke-width="0.8"/>
<text x="456.26" y="1096.90" font-size="12.6" text-anchor="end" transform="rotate(-45 456.26 1096.90)" fill="#1a1a1a">Control</text>
<text x="478.85" y="1096.90" font-size="12.6" text-anchor="end" transform="rotate(-45 478.85 1096.90)" fill="#1a1a1a">B6</text>
<text x="501.45" y="1096.90" font-size="12.6" text-anchor="end" transform="rotate(-45 501.45 1096.90)" fill="#1a1a1a">MK1</text>
<text x="524.05" y="1096.90" font-size="12.6" text-anchor="end" transform="rotate(-45 524.05 1096.90)" fill="#1a1a1a">P1</text>
<text x="546.64" y="1096.90" font-size="12.6" text-anchor="end" transform="rotate(-45 546.64 1096.90)" fill="#1a1a1a">T22</text>
<line x1="68.00" x2="70.00" y1="1070.30" y2="1070.30" stroke="#888" stroke-width="0.8"/>
<text x="67.30" y="1077.60" font-size="19" text-anchor="end" fill="#000">0</text>
<line x1="68.00" x2="70.00" y1="1023.02" y2="1023.02" stroke="#888" stroke-width="0.8"/>
<text x="67.30" y="1030.32" font-size="19" text-anchor="end" fill="#000">20</text>
<line x1="68.00" x2="70.00" y1="975.74" y2="975.74" stroke="#888" stroke-width="0.8"/>
<text x="67.30" y="983.04" font-size="19" text-anchor="end" fill="#000">40</text>
<line x1="68.00" x2="70.00" y1="928.46" y2="928.46" stroke="#888" stroke-width="0.8"/>
<text x="67.30" y="935.76" font-size="19" text-anchor="end" fill="#000">60</text>
<line x1="68.00" x2="70.00" y1="881.18" y2="881.18" stroke="#888" stroke-width="0.8"/>
<text x="67.30" y="888.48" font-size="19" text-anchor="end" fill="#000">80</text>
<line x1="68.00" x2="70.00" y1="833.90" y2="833.90" stroke="#888" stroke-width="0.8"/>
<text x="67.30" y="841.20" font-size="19" text-anchor="end" fill="#000">100</text>
<rect x="593.5" y="38.0" width="57.0" height="90.7" fill="#e7e7e5"/>
<rect x="651.5" y="38.0" width="58.5" height="90.7" fill="#e7e7e5"/>
<rect x="711.0" y="38.0" width="57.0" height="90.7" fill="#e7e7e5"/>
<rect x="769.0" y="38.0" width="58.1" height="90.7" fill="#e7e7e5"/>
<rect x="828.1" y="38.0" width="56.0" height="90.7" fill="#e7e7e5"/>
<rect x="593.5" y="136.2" width="57.0" height="90.6" fill="#e7e7e5"/>
<rect x="651.5" y="136.2" width="58.5" height="90.6" fill="#e7e7e5"/>
<rect x="711.0" y="136.2" width="57.0" height="90.6" fill="#e7e7e5"/>
<rect x="769.0" y="136.2" width="58.1" height="90.6" fill="#e7e7e5"/>
<rect x="828.1" y="136.2" width="56.0" height="90.6" fill="#e7e7e5"/>
<clipPath id="lc1"><path d="M614.0,40.0 C629.8,57.4 649.0,80.6 649.0,98.0 C649.0,111.5 636.8,125.0 624.5,125.0 C609.8,125.0 595.0,112.5 595.0,100.0 C595.0,82.0 605.5,58.0 614.0,40.0Z"/></clipPath>
<path d="M614.0,40.0 C629.8,57.4 649.0,80.6 649.0,98.0 C649.0,111.5 636.8,125.0 624.5,125.0 C609.8,125.0 595.0,112.5 595.0,100.0 C595.0,82.0 605.5,58.0 614.0,40.0Z" fill="#8cba45"/>
<g clip-path="url(#lc1)">
<circle cx="600.0" cy="82.0" r="1.3" fill="#8b5a2a"/><circle cx="615.0" cy="66.0" r="1.2" fill="#c09070"/><circle cx="621.0" cy="58.0" r="1.3" fill="#a07040"/><circle cx="603.0" cy="99.0" r="1.8" fill="#c09070"/><circle cx="612.0" cy="109.0" r="1.2" fill="#c09070"/><circle cx="640.0" cy="77.0" r="1.0" fill="#6a4a2a"/><circle cx="645.0" cy="110.0" r="1.2" fill="#6a4a2a"/><circle cx="630.0" cy="101.0" r="1.1" fill="#111"/><circle cx="637.0" cy="93.0" r="0.8" fill="#111"/><circle cx="597.0" cy="90.0" r="1.3" fill="#7a4a2a"/>
<line x1="614.0" y1="40.0" x2="624.5" y2="125.0" stroke="#ffffff" stroke-opacity="0.13" stroke-width="0.8"/>
<path d="M623.2,114.8 Q637.1,108.2 652.4,86.7 M623.2,114.8 Q608.2,111.8 588.1,94.6 M621.4,99.5 Q635.2,92.9 650.5,71.4 M621.4,99.5 Q606.3,96.5 586.2,79.3 M619.5,84.2 Q633.3,77.6 648.7,56.1 M619.5,84.2 Q604.4,81.2 584.3,64.0 M617.6,68.9 Q631.5,62.3 646.8,40.8 M617.6,68.9 Q602.5,65.9 582.4,48.7" fill="none" stroke="#ffffff" stroke-opacity="0.104" stroke-width="0.6"/>
</g>
<line x1="624.5" y1="125.0" x2="624.5" y2="127.0" stroke="#8cba45" stroke-width="1.2"/>
<clipPath id="lc2"><path d="M666.0,41.0 C685.1,56.3 708.4,76.7 708.4,92.0 C708.4,109.0 698.8,125.9 689.3,125.9 C670.8,125.9 652.2,118.1 652.2,110.3 C652.2,89.5 659.8,61.8 666.0,41.0Z"/></clipPath>
<path d="M666.0,41.0 C685.1,56.3 708.4,76.7 708.4,92.0 C708.4,109.0 698.8,125.9 689.3,125.9 C670.8,125.9 652.2,118.1 652.2,110.3 C652.2,89.5 659.8,61.8 666.0,41.0Z" fill="#37682f"/>
<g clip-path="url(#lc2)">

<line x1="666.0" y1="41.0" x2="689.3" y2="125.9" stroke="#ffffff" stroke-opacity="0.13" stroke-width="0.8"/>
<path d="M686.5,115.7 Q700.5,106.4 713.7,80.7 M686.5,115.7 Q669.7,114.8 645.3,99.4 M682.3,100.4 Q696.3,91.1 709.5,65.4 M682.3,100.4 Q665.5,99.5 641.1,84.2 M678.1,85.1 Q692.1,75.8 705.3,50.1 M678.1,85.1 Q661.3,84.2 636.9,68.9 M673.9,69.9 Q687.9,60.5 701.1,34.8 M673.9,69.9 Q657.1,69.0 632.7,53.6" fill="none" stroke="#ffffff" stroke-opacity="0.104" stroke-width="0.6"/>
</g>
<line x1="689.3" y1="125.9" x2="689.3" y2="127.9" stroke="#37682f" stroke-width="1.2"/>
<clipPath id="lc3"><path d="M730.5,40.0 C747.2,56.2 767.6,77.8 767.6,94.0 C767.6,110.3 756.0,126.7 744.5,126.7 C728.0,126.7 711.4,111.3 711.4,96.0 C711.4,79.2 721.9,56.8 730.5,40.0Z"/></clipPath>
<path d="M730.5,40.0 C747.2,56.2 767.6,77.8 767.6,94.0 C767.6,110.3 756.0,126.7 744.5,126.7 C728.0,126.7 711.4,111.3 711.4,96.0 C711.4,79.2 721.9,56.8 730.5,40.0Z" fill="#3e7834"/>
<g clip-path="url(#lc3)">
<circle cx="731.0" cy="43.0" r="1.5" fill="#7a5a3a"/><circle cx="733.0" cy="75.0" r="0.9" fill="#c08050"/>
<line x1="730.5" y1="40.0" x2="744.5" y2="126.7" stroke="#ffffff" stroke-opacity="0.13" stroke-width="0.8"/>
<path d="M742.8,116.3 Q757.0,108.9 772.1,85.9 M742.8,116.3 Q727.0,113.7 705.5,96.7 M740.3,100.7 Q754.5,93.3 769.6,70.3 M740.3,100.7 Q724.5,98.1 703.0,81.1 M737.8,85.1 Q752.0,77.7 767.1,54.7 M737.8,85.1 Q722.0,82.5 700.4,65.5 M735.3,69.5 Q749.4,62.1 764.5,39.1 M735.3,69.5 Q719.5,66.9 697.9,49.9" fill="none" stroke="#ffffff" stroke-opacity="0.104" stroke-width="0.6"/>
</g>
<line x1="744.5" y1="126.7" x2="744.5" y2="128.7" stroke="#3e7834" stroke-width="1.2"/>
<clipPath id="lc4"><path d="M792.3,41.0 C807.5,57.0 826.0,78.2 826.0,94.2 C826.0,110.2 814.1,126.3 802.3,126.3 C785.8,126.3 769.2,114.2 769.2,102.2 C769.2,83.8 781.9,59.4 792.3,41.0Z"/></clipPath>
<path d="M792.3,41.0 C807.5,57.0 826.0,78.2 826.0,94.2 C826.0,110.2 814.1,126.3 802.3,126.3 C785.8,126.3 769.2,114.2 769.2,102.2 C769.2,83.8 781.9,59.4 792.3,41.0Z" fill="#37692f"/>
<g clip-path="url(#lc4)">

<line x1="792.3" y1="41.0" x2="802.3" y2="126.3" stroke="#ffffff" stroke-opacity="0.13" stroke-width="0.8"/>
<path d="M801.1,116.1 Q815.9,109.1 832.3,86.4 M801.1,116.1 Q785.1,112.7 763.9,94.4 M799.3,100.7 Q814.1,93.8 830.5,71.1 M799.3,100.7 Q783.3,97.4 762.1,79.1 M797.5,85.4 Q812.3,78.4 828.7,55.7 M797.5,85.4 Q781.5,82.0 760.3,63.7 M795.7,70.0 Q810.5,63.1 826.9,40.4 M795.7,70.0 Q779.7,66.7 758.5,48.4" fill="none" stroke="#ffffff" stroke-opacity="0.104" stroke-width="0.6"/>
</g>
<line x1="802.3" y1="126.3" x2="802.3" y2="128.3" stroke="#37692f" stroke-width="1.2"/>
<clipPath id="lc5"><path d="M845.5,41.0 C862.9,58.2 884.2,81.0 884.2,98.2 C884.2,112.2 873.4,126.3 862.5,126.3 C845.5,126.3 828.4,117.3 828.4,108.3 C828.4,88.1 837.8,61.2 845.5,41.0Z"/></clipPath>
<path d="M845.5,41.0 C862.9,58.2 884.2,81.0 884.2,98.2 C884.2,112.2 873.4,126.3 862.5,126.3 C845.5,126.3 828.4,117.3 828.4,108.3 C828.4,88.1 837.8,61.2 845.5,41.0Z" fill="#98c24c"/>
<g clip-path="url(#lc5)">
<path d="M845.5,41 L837,62 L829,100" stroke="#8b5a2a" stroke-width="1.8" fill="none"/><path d="M845.5,41 L860,55 L875,70" stroke="#8b5a2a" stroke-width="1.2" fill="none"/><circle cx="838.0" cy="72.0" r="1.0" fill="#8b4a2a"/><circle cx="850.0" cy="80.0" r="0.9" fill="#8b4a2a"/><circle cx="870.0" cy="60.0" r="0.8" fill="#8b4a2a"/><circle cx="866.0" cy="85.0" r="0.8" fill="#8b4a2a"/>
<line x1="845.5" y1="41.0" x2="862.5" y2="126.3" stroke="#ffffff" stroke-opacity="0.13" stroke-width="0.8"/>
<path d="M860.5,116.1 Q874.5,108.1 888.8,84.4 M860.5,116.1 Q844.4,114.1 822.1,97.7 M857.4,100.7 Q871.4,92.7 885.8,69.0 M857.4,100.7 Q841.4,98.7 819.0,82.3 M854.3,85.4 Q868.4,77.4 882.7,53.7 M854.3,85.4 Q838.3,83.3 816.0,67.0 M851.3,70.0 Q865.3,62.0 879.7,38.3 M851.3,70.0 Q835.3,68.0 812.9,51.6" fill="none" stroke="#ffffff" stroke-opacity="0.104" stroke-width="0.6"/>
</g>
<line x1="862.5" y1="126.3" x2="862.5" y2="128.3" stroke="#98c24c" stroke-width="1.2"/>
<linearGradient id="gA2" x1="0" y1="0" x2="0" y2="1"><stop offset="0" stop-color="#a2cd4a"/><stop offset="0.45" stop-color="#8cc040"/><stop offset="0.75" stop-color="#72ac38"/><stop offset="1" stop-color="#6aa636"/></linearGradient>
<path d="M620.1,137.4 C622.1,138.0 623.7,142.9 625.7,145.9 C627.8,148.9 630.4,151.8 632.4,155.2 C634.4,158.6 635.5,162.3 637.5,166.3 C639.5,170.3 642.3,174.5 644.3,179.0 C646.3,183.5 648.4,189.3 649.4,193.4 C650.4,197.5 650.7,200.5 650.3,203.6 C649.9,206.7 649.0,209.3 646.9,212.1 C644.8,214.9 641.3,218.5 637.5,220.6 C633.7,222.7 628.4,224.2 624.0,224.8 C619.6,225.4 615.0,224.8 611.2,224.0 C607.4,223.2 603.4,221.7 601.0,219.7 C598.6,217.7 597.8,216.5 596.8,212.1 C595.8,207.7 595.0,198.5 594.7,193.4 C594.4,188.3 594.5,185.0 595.1,181.5 C595.7,178.0 596.8,175.9 598.1,172.2 C599.4,168.5 601.2,163.2 602.7,159.5 C604.2,155.8 605.1,152.9 607.0,150.1 C608.9,147.3 611.6,144.6 613.8,142.5 C616.0,140.4 618.1,136.8 620.1,137.4Z" fill="url(#gA2)"/>
<clipPath id="cl1"><path d="M620.1,137.4 C622.1,138.0 623.7,142.9 625.7,145.9 C627.8,148.9 630.4,151.8 632.4,155.2 C634.4,158.6 635.5,162.3 637.5,166.3 C639.5,170.3 642.3,174.5 644.3,179.0 C646.3,183.5 648.4,189.3 649.4,193.4 C650.4,197.5 650.7,200.5 650.3,203.6 C649.9,206.7 649.0,209.3 646.9,212.1 C644.8,214.9 641.3,218.5 637.5,220.6 C633.7,222.7 628.4,224.2 624.0,224.8 C619.6,225.4 615.0,224.8 611.2,224.0 C607.4,223.2 603.4,221.7 601.0,219.7 C598.6,217.7 597.8,216.5 596.8,212.1 C595.8,207.7 595.0,198.5 594.7,193.4 C594.4,188.3 594.5,185.0 595.1,181.5 C595.7,178.0 596.8,175.9 598.1,172.2 C599.4,168.5 601.2,163.2 602.7,159.5 C604.2,155.8 605.1,152.9 607.0,150.1 C608.9,147.3 611.6,144.6 613.8,142.5 C616.0,140.4 618.1,136.8 620.1,137.4Z"/></clipPath>
<g clip-path="url(#cl1)"><path d="M590,177 L598,176 L612.1,173.9 L619.7,162.9 L625.7,151.8 L630,151 L640,140 L640,130 L590,130Z" fill="#5c4a35"/><circle cx="633.3" cy="163" r="3" fill="#6a5236"/><circle cx="612" cy="178" r="2.5" fill="#c8e060"/><circle cx="606" cy="185" r="1.8" fill="#c0dc58"/><circle cx="600" cy="218" r="1.6" fill="#7a5a3a"/><circle cx="641" cy="193" r="0.8" fill="#222"/><circle cx="618" cy="215" r="0.7" fill="#222"/><circle cx="631" cy="218" r="0.7" fill="#222"/><path d="M624,224 L618,175" stroke="#c8e070" stroke-opacity="0.35" stroke-width="0.8"/></g>
<clipPath id="lc6"><path d="M678.7,138.0 C691.3,160.5 708.8,186.5 708.8,197.2 C708.8,210.8 695.8,224.3 682.7,224.3 C667.7,224.3 652.6,212.2 652.6,200.2 C652.6,189.0 667.7,161.6 678.7,138.0Z"/></clipPath>
<path d="M678.7,138.0 C691.3,160.5 708.8,186.5 708.8,197.2 C708.8,210.8 695.8,224.3 682.7,224.3 C667.7,224.3 652.6,212.2 652.6,200.2 C652.6,189.0 667.7,161.6 678.7,138.0Z" fill="#33652d"/>
<g clip-path="url(#lc6)">

<line x1="678.7" y1="138.0" x2="682.7" y2="224.3" stroke="#ffffff" stroke-opacity="0.13" stroke-width="0.8"/>
<path d="M682.2,213.9 Q697.2,208.2 714.8,187.1 M682.2,213.9 Q666.8,209.6 647.3,190.2 M681.5,198.4 Q696.4,192.6 714.1,171.5 M681.5,198.4 Q666.1,194.1 646.6,174.7 M680.8,182.9 Q695.7,177.1 713.3,156.0 M680.8,182.9 Q665.4,178.5 645.9,159.1 M680.1,167.3 Q695.0,161.6 712.6,140.5 M680.1,167.3 Q664.6,163.0 645.2,143.6" fill="none" stroke="#ffffff" stroke-opacity="0.104" stroke-width="0.6"/>
</g>
<line x1="682.7" y1="224.3" x2="682.7" y2="226.3" stroke="#33652d" stroke-width="1.2"/>
<clipPath id="lc7"><path d="M729.5,138.4 C737.1,164.4 767.6,181.7 767.6,200.2 C767.6,213.1 755.5,226.0 743.5,226.0 C728.8,226.0 714.0,211.0 714.0,196.0 C714.0,178.7 726.4,162.6 729.5,138.4Z"/></clipPath>
<path d="M729.5,138.4 C737.1,164.4 767.6,181.7 767.6,200.2 C767.6,213.1 755.5,226.0 743.5,226.0 C728.8,226.0 714.0,211.0 714.0,196.0 C714.0,178.7 726.4,162.6 729.5,138.4Z" fill="#5c983c"/>
<g clip-path="url(#lc7)">
<path d="M700,130 L740,130 L748,160 L756,168 L735,165 L722,166 L700,170Z" fill="#7a6243"/><rect x="710" y="175" width="8" height="30" fill="#8a6a48" opacity="0.8"/><circle cx="718.0" cy="195.0" r="2.0" fill="#b89060"/><circle cx="716.0" cy="185.0" r="1.5" fill="#a08050"/><circle cx="742.0" cy="213.0" r="2.2" fill="#c09a70"/><circle cx="752.0" cy="210.0" r="1.8" fill="#c09a70"/><circle cx="730.0" cy="218.0" r="1.5" fill="#c09a70"/><circle cx="760.0" cy="215.0" r="1.3" fill="#c09a70"/><circle cx="722.0" cy="208.0" r="1.5" fill="#c09a70"/>
<line x1="729.5" y1="138.4" x2="743.5" y2="226.0" stroke="#ffffff" stroke-opacity="0.13" stroke-width="0.8"/>
<path d="M741.8,215.5 Q755.4,208.4 769.9,186.5 M741.8,215.5 Q726.7,213.0 706.1,196.7 M739.3,199.7 Q752.9,192.7 767.3,170.7 M739.3,199.7 Q724.2,197.2 703.6,180.9 M736.8,184.0 Q750.4,176.9 764.8,155.0 M736.8,184.0 Q721.7,181.5 701.1,165.2 M734.3,168.2 Q747.8,161.1 762.3,139.2 M734.3,168.2 Q719.2,165.7 698.6,149.4" fill="none" stroke="#ffffff" stroke-opacity="0.104" stroke-width="0.6"/>
</g>
<line x1="743.5" y1="226.0" x2="743.5" y2="228.0" stroke="#5c983c" stroke-width="1.2"/>
<clipPath id="lc8"><path d="M795.9,138.4 C808.3,164.3 825.4,193.5 825.4,203.2 C825.4,212.7 812.9,224.3 802.7,224.3 C788.5,224.3 771.2,215.0 771.2,207.3 C771.2,197.0 785.5,166.0 795.9,138.4Z"/></clipPath>
<path d="M795.9,138.4 C808.3,164.3 825.4,193.5 825.4,203.2 C825.4,212.7 812.9,224.3 802.7,224.3 C788.5,224.3 771.2,215.0 771.2,207.3 C771.2,197.0 785.5,166.0 795.9,138.4Z" fill="#31672c"/>
<g clip-path="url(#lc8)">

<line x1="795.9" y1="138.4" x2="802.7" y2="224.3" stroke="#ffffff" stroke-opacity="0.13" stroke-width="0.8"/>
<path d="M801.9,214.0 Q816.1,208.0 832.5,187.0 M801.9,214.0 Q786.9,210.3 767.4,192.2 M800.7,198.5 Q814.9,192.5 831.2,171.6 M800.7,198.5 Q785.6,194.8 766.2,176.7 M799.4,183.1 Q813.7,177.0 830.0,156.1 M799.4,183.1 Q784.4,179.3 765.0,161.3 M798.2,167.6 Q812.5,161.6 828.8,140.6 M798.2,167.6 Q783.2,163.9 763.8,145.8" fill="none" stroke="#ffffff" stroke-opacity="0.104" stroke-width="0.6"/>
</g>
<line x1="802.7" y1="224.3" x2="802.7" y2="226.3" stroke="#31672c" stroke-width="1.2"/>
<clipPath id="lc9"><path d="M860.9,137.6 C871.1,155.2 883.6,178.6 883.6,196.2 C883.6,210.8 872.0,225.3 860.5,225.3 C845.2,225.3 830.0,207.8 830.0,190.2 C830.0,174.4 847.0,153.4 860.9,137.6Z"/></clipPath>
<path d="M860.9,137.6 C871.1,155.2 883.6,178.6 883.6,196.2 C883.6,210.8 872.0,225.3 860.5,225.3 C845.2,225.3 830.0,207.8 830.0,190.2 C830.0,174.4 847.0,153.4 860.9,137.6Z" fill="#4a8a32"/>
<g clip-path="url(#lc9)">
<rect x="850" y="130" width="20" height="8" fill="#7a6040"/><circle cx="878.0" cy="198.0" r="3.0" fill="#6a5a30"/><circle cx="875.0" cy="208.0" r="2.0" fill="#8a7a40"/><circle cx="870.0" cy="180.0" r="4.0" fill="#6fa840"/><circle cx="876.0" cy="190.0" r="3.0" fill="#7ab848"/><circle cx="858.0" cy="170.0" r="3.0" fill="#64a03c"/><circle cx="835.0" cy="200.0" r="1.0" fill="#7a5a3a"/><circle cx="845.0" cy="207.0" r="1.0" fill="#7a5a3a"/>
<line x1="860.9" y1="137.6" x2="860.5" y2="225.3" stroke="#ffffff" stroke-opacity="0.13" stroke-width="0.8"/>
<path d="M860.5,214.8 Q875.1,210.0 893.0,190.7 M860.5,214.8 Q846.0,209.9 828.3,190.4 M860.6,199.0 Q875.2,194.2 893.1,174.9 M860.6,199.0 Q846.1,194.1 828.4,174.6 M860.7,183.2 Q875.3,178.4 893.2,159.1 M860.7,183.2 Q846.2,178.3 828.4,158.8 M860.8,167.4 Q875.3,162.6 893.2,143.3 M860.8,167.4 Q846.2,162.5 828.5,143.0" fill="none" stroke="#ffffff" stroke-opacity="0.104" stroke-width="0.6"/>
</g>
<line x1="860.5" y1="225.3" x2="860.5" y2="227.3" stroke="#4a8a32" stroke-width="1.2"/>
<text x="594.5" y="259.0" font-size="12.6" text-anchor="start" transform="rotate(-30 594.5 259.0)" fill="#111" stroke="#111" stroke-width="0.35">Control</text>
<text x="675.2" y="246.3" font-size="12.6" text-anchor="start" transform="rotate(-30 675.2 246.3)" fill="#111" stroke="#111" stroke-width="0.35">B6</text>
<text x="725.0" y="252.5" font-size="12.6" text-anchor="start" transform="rotate(-30 725.0 252.5)" fill="#111" stroke="#111" stroke-width="0.35">MK1</text>
<text x="800.0" y="244.0" font-size="12.6" text-anchor="start" transform="rotate(-30 800.0 244.0)" fill="#111" stroke="#111" stroke-width="0.35">P1</text>
<text x="858.5" y="247.5" font-size="12.6" text-anchor="start" transform="rotate(-30 858.5 247.5)" fill="#111" stroke="#111" stroke-width="0.35">T22</text>
<text x="558.5" y="49.9" font-size="14.4" textLength="31" lengthAdjust="spacingAndGlyphs" fill="#000">FMA</text>
<text x="563.8" y="147.3" font-size="15" textLength="25.5" lengthAdjust="spacingAndGlyphs" fill="#000">NSL</text>
<rect x="597.5" y="399.8" width="55.5" height="89.8" fill="#e6e6e4"/>
<rect x="654.0" y="399.8" width="56.7" height="89.8" fill="#e6e6e4"/>
<rect x="711.7" y="399.8" width="56.0" height="89.8" fill="#e6e6e4"/>
<rect x="768.7" y="399.8" width="59.2" height="89.8" fill="#e6e6e4"/>
<rect x="828.9" y="399.8" width="54.2" height="89.8" fill="#e6e6e4"/>
<rect x="597.5" y="498.3" width="55.5" height="89.5" fill="#e6e6e4"/>
<rect x="654.0" y="498.3" width="56.7" height="89.5" fill="#e6e6e4"/>
<rect x="711.7" y="498.3" width="56.0" height="89.5" fill="#e6e6e4"/>
<rect x="768.7" y="498.3" width="59.2" height="89.5" fill="#e6e6e4"/>
<rect x="828.9" y="498.3" width="54.2" height="89.5" fill="#e6e6e4"/>
<path d="M609.4,401.7 C610.8,401.6 615.5,404.2 618.9,407.1 C622.3,410.0 626.3,414.8 629.7,418.8 C633.1,422.8 636.4,426.7 639.3,431.3 C642.2,435.9 645.2,440.9 647.2,446.2 C649.2,451.4 650.9,458.6 651.4,462.8 C651.9,467.0 652.0,468.3 650.5,471.2 C649.0,474.1 645.8,478.1 642.2,480.3 C638.6,482.5 633.2,483.7 628.9,484.5 C624.6,485.3 620.1,486.0 616.4,485.3 C612.7,484.6 609.2,482.9 606.5,480.3 C603.8,477.7 601.0,473.5 600.2,469.5 C599.4,465.5 600.2,461.6 601.5,456.2 C602.8,450.8 606.7,442.7 608.1,437.1 C609.5,431.6 609.4,427.8 609.8,422.9 C610.1,418.0 610.3,411.5 610.2,408.0 C610.1,404.5 608.0,401.8 609.4,401.7Z" fill="#3d792f"/>
<clipPath id="cl2"><path d="M609.4,401.7 C610.8,401.6 615.5,404.2 618.9,407.1 C622.3,410.0 626.3,414.8 629.7,418.8 C633.1,422.8 636.4,426.7 639.3,431.3 C642.2,435.9 645.2,440.9 647.2,446.2 C649.2,451.4 650.9,458.6 651.4,462.8 C651.9,467.0 652.0,468.3 650.5,471.2 C649.0,474.1 645.8,478.1 642.2,480.3 C638.6,482.5 633.2,483.7 628.9,484.5 C624.6,485.3 620.1,486.0 616.4,485.3 C612.7,484.6 609.2,482.9 606.5,480.3 C603.8,477.7 601.0,473.5 600.2,469.5 C599.4,465.5 600.2,461.6 601.5,456.2 C602.8,450.8 606.7,442.7 608.1,437.1 C609.5,431.6 609.4,427.8 609.8,422.9 C610.1,418.0 610.3,411.5 610.2,408.0 C610.1,404.5 608.0,401.8 609.4,401.7Z"/></clipPath>
<g clip-path="url(#cl2)"><path d="M595,398 L660,398 L660,433 L639.3,431.3 L619,423 L610.2,425.4 L595,426Z" fill="#b08c64"/><path d="M600,472 Q601,455 609,440" stroke="#b0bc40" stroke-width="2.4" fill="none"/><path d="M600,475 Q598,462 603,450" stroke="#7a6040" stroke-width="1.5" fill="none"/><path d="M647,470 Q652,455 646,442" stroke="#b8c444" stroke-width="2.2" fill="none"/><path d="M640,481 Q650,474 651,465" stroke="#8a6a40" stroke-width="1.5" fill="none"/><circle cx="644" cy="441" r="1.6" fill="#7a5a3a"/><circle cx="630" cy="449" r="1.4" fill="#8a6a4a"/></g>
<path d="M694.9,406.3 C692.7,404.7 688.2,410.5 684.9,413.0 C681.6,415.5 678.2,418.0 674.9,421.3 C671.6,424.6 667.8,429.0 665.0,432.9 C662.2,436.8 659.7,439.6 658.3,444.6 C656.9,449.6 656.3,458.4 656.7,462.8 C657.1,467.2 658.4,468.2 660.8,471.1 C663.1,474.0 667.3,478.1 670.8,480.3 C674.3,482.5 677.9,484.1 681.6,484.5 C685.3,484.9 690.2,484.5 693.2,482.8 C696.2,481.1 697.7,478.6 699.9,474.5 C702.1,470.4 706.0,462.9 706.5,457.9 C707.0,452.9 704.6,450.4 703.2,444.6 C701.8,438.8 699.6,429.3 698.2,422.9 C696.8,416.5 697.1,407.9 694.9,406.3Z" fill="#34502a"/>
<clipPath id="cl3"><path d="M694.9,406.3 C692.7,404.7 688.2,410.5 684.9,413.0 C681.6,415.5 678.2,418.0 674.9,421.3 C671.6,424.6 667.8,429.0 665.0,432.9 C662.2,436.8 659.7,439.6 658.3,444.6 C656.9,449.6 656.3,458.4 656.7,462.8 C657.1,467.2 658.4,468.2 660.8,471.1 C663.1,474.0 667.3,478.1 670.8,480.3 C674.3,482.5 677.9,484.1 681.6,484.5 C685.3,484.9 690.2,484.5 693.2,482.8 C696.2,481.1 697.7,478.6 699.9,474.5 C702.1,470.4 706.0,462.9 706.5,457.9 C707.0,452.9 704.6,450.4 703.2,444.6 C701.8,438.8 699.6,429.3 698.2,422.9 C696.8,416.5 697.1,407.9 694.9,406.3Z"/></clipPath>
<g clip-path="url(#cl3)"><circle cx="668.0" cy="470.0" r="2.6" fill="#a89868"/><circle cx="675.0" cy="478.0" r="2.2" fill="#a89868"/><circle cx="690.0" cy="450.0" r="1.5" fill="#9a8a5a"/><circle cx="700.0" cy="440.0" r="1.2" fill="#9a8a5a"/><circle cx="680.0" cy="430.0" r="1.5" fill="#9a8a5a"/><circle cx="665.0" cy="455.0" r="1.8" fill="#9a8a5a"/><circle cx="695.0" cy="470.0" r="1.8" fill="#a89868"/><circle cx="685.0" cy="462.0" r="1.2" fill="#9a8a5a"/><circle cx="672.0" cy="440.0" r="1.3" fill="#9a8a5a"/><circle cx="698.0" cy="425.0" r="1.0" fill="#9a8a5a"/><circle cx="688.0" cy="418.0" r="1.2" fill="#9a8a5a"/><circle cx="662.0" cy="465.0" r="1.3" fill="#9a8a5a"/><circle cx="686.0" cy="442.0" r="1.2" fill="#9a8a5a"/><circle cx="678.0" cy="455.0" r="1.0" fill="#9a8a5a"/><circle cx="692.0" cy="478.0" r="1.5" fill="#a89868"/><circle cx="683.0" cy="475.0" r="1.2" fill="#a89868"/></g>
<clipPath id="lc10"><path d="M729.0,403.0 C742.2,419.6 766.6,441.6 766.6,458.2 C766.6,471.8 746.5,485.3 726.4,485.3 C721.9,485.3 717.4,473.8 717.4,462.2 C717.4,444.4 724.9,420.8 729.0,403.0Z"/></clipPath>
<path d="M729.0,403.0 C742.2,419.6 766.6,441.6 766.6,458.2 C766.6,471.8 746.5,485.3 726.4,485.3 C721.9,485.3 717.4,473.8 717.4,462.2 C717.4,444.4 724.9,420.8 729.0,403.0Z" fill="#98845a"/>
<g clip-path="url(#lc10)">
<path d="M729.0,403.0 C742.2,419.6 766.6,441.6 766.6,458.2 C766.6,471.8 746.5,485.3 726.4,485.3 C721.9,485.3 717.4,473.8 717.4,462.2 C717.4,444.4 724.9,420.8 729.0,403.0Z" fill="#7e7a4c" opacity="0.5"/>
<circle cx="740.0" cy="440.0" r="3.0" fill="#807c4a"/><circle cx="750.0" cy="460.0" r="3.0" fill="#807c4a"/><circle cx="735.0" cy="465.0" r="2.5" fill="#8a865a"/><circle cx="745.0" cy="425.0" r="2.0" fill="#807c4a"/><circle cx="758.0" cy="470.0" r="2.0" fill="#b09a6a"/>
<line x1="729.0" y1="403.0" x2="726.4" y2="485.3" stroke="#ffffff" stroke-opacity="0.13" stroke-width="0.8"/>
<path d="M726.7,475.4 Q740.2,471.4 757.0,454.2 M726.7,475.4 Q713.5,470.6 697.8,452.3 M727.2,460.6 Q740.6,456.6 757.5,439.3 M727.2,460.6 Q714.0,455.7 698.3,437.5 M727.6,445.8 Q741.1,441.8 758.0,424.5 M727.6,445.8 Q714.5,440.9 698.7,422.7 M728.1,431.0 Q741.6,427.0 758.4,409.7 M728.1,431.0 Q714.9,426.1 699.2,407.8" fill="none" stroke="#ffffff" stroke-opacity="0.104" stroke-width="0.6"/>
</g>
<line x1="726.4" y1="485.3" x2="726.4" y2="487.3" stroke="#98845a" stroke-width="1.2"/>
<path d="M769.7,405.1 C771.5,404.4 778.4,408.4 782.6,410.5 C786.8,412.6 790.9,414.9 795.1,418.0 C799.3,421.1 803.9,425.2 807.6,428.8 C811.3,432.4 814.7,436.2 817.5,439.6 C820.3,443.1 822.8,446.2 824.2,449.5 C825.6,452.8 826.0,456.3 825.9,459.5 C825.8,462.7 825.1,465.9 823.4,468.7 C821.7,471.5 819.2,473.9 815.9,476.1 C812.6,478.3 807.6,480.3 803.4,482.0 C799.2,483.7 794.4,485.6 790.9,486.1 C787.4,486.7 784.8,487.5 782.6,485.3 C780.4,483.1 779.0,477.7 777.6,472.8 C776.2,467.9 775.1,462.4 774.3,456.2 C773.5,450.0 773.1,442.3 772.7,435.4 C772.3,428.5 772.3,419.7 771.8,414.6 C771.3,409.6 767.9,405.8 769.7,405.1Z" fill="#34552a"/>
<clipPath id="cl4"><path d="M769.7,405.1 C771.5,404.4 778.4,408.4 782.6,410.5 C786.8,412.6 790.9,414.9 795.1,418.0 C799.3,421.1 803.9,425.2 807.6,428.8 C811.3,432.4 814.7,436.2 817.5,439.6 C820.3,443.1 822.8,446.2 824.2,449.5 C825.6,452.8 826.0,456.3 825.9,459.5 C825.8,462.7 825.1,465.9 823.4,468.7 C821.7,471.5 819.2,473.9 815.9,476.1 C812.6,478.3 807.6,480.3 803.4,482.0 C799.2,483.7 794.4,485.6 790.9,486.1 C787.4,486.7 784.8,487.5 782.6,485.3 C780.4,483.1 779.0,477.7 777.6,472.8 C776.2,467.9 775.1,462.4 774.3,456.2 C773.5,450.0 773.1,442.3 772.7,435.4 C772.3,428.5 772.3,419.7 771.8,414.6 C771.3,409.6 767.9,405.8 769.7,405.1Z"/></clipPath>
<g clip-path="url(#cl4)"><circle cx="806.0" cy="465.0" r="2.8" fill="#d8c090"/><circle cx="783.0" cy="419.0" r="1.6" fill="#d0b888"/><circle cx="787.0" cy="429.0" r="1.3" fill="#c8b080"/><circle cx="796.0" cy="431.0" r="1.5" fill="#c8b080"/><circle cx="809.0" cy="456.0" r="1.8" fill="#c8b080"/><circle cx="790.0" cy="480.0" r="1.8" fill="#c8b080"/><circle cx="793.0" cy="475.0" r="1.5" fill="#c8b080"/><circle cx="789.0" cy="440.0" r="2.2" fill="#c8b080"/><circle cx="781.0" cy="447.0" r="2.2" fill="#4c9a36"/><circle cx="795.0" cy="451.0" r="2.8" fill="#4c9a36"/><circle cx="776.0" cy="420.0" r="1.2" fill="#c8b080"/><circle cx="810.0" cy="470.0" r="1.2" fill="#c8b080"/><circle cx="815.0" cy="474.0" r="1.6" fill="#b8a070"/><circle cx="800.0" cy="480.0" r="1.4" fill="#b8a070"/></g>
<clipPath id="lc11"><path d="M842.4,403.0 C854.6,421.4 883.0,445.8 883.0,464.2 C883.0,475.1 864.8,486.0 846.5,486.0 C838.5,486.0 830.4,467.6 830.4,449.2 C830.4,435.3 838.8,416.9 842.4,403.0Z"/></clipPath>
<path d="M842.4,403.0 C854.6,421.4 883.0,445.8 883.0,464.2 C883.0,475.1 864.8,486.0 846.5,486.0 C838.5,486.0 830.4,467.6 830.4,449.2 C830.4,435.3 838.8,416.9 842.4,403.0Z" fill="#a88c64"/>
<g clip-path="url(#lc11)">
<path d="M848,420 C866,428 880,452 874,472 C866,482 852,482 842,472 C836,452 838,432 848,420Z" fill="#326a2c"/><circle cx="851.0" cy="455.0" r="1.3" fill="#c8b080"/><circle cx="860.0" cy="445.0" r="1.1" fill="#c8b080"/><circle cx="845.0" cy="460.0" r="1.2" fill="#c8b080"/><circle cx="868.0" cy="462.0" r="1.1" fill="#c8b080"/>
<line x1="842.4" y1="403.0" x2="846.5" y2="486.0" stroke="#ffffff" stroke-opacity="0.13" stroke-width="0.8"/>
<path d="M846.0,476.0 Q860.5,470.4 877.6,449.8 M846.0,476.0 Q831.0,471.9 812.0,453.1 M845.3,461.1 Q859.8,455.5 876.8,434.9 M845.3,461.1 Q830.3,456.9 811.3,438.1 M844.5,446.2 Q859.0,440.5 876.1,420.0 M844.5,446.2 Q829.5,442.0 810.5,423.2 M843.8,431.2 Q858.3,425.6 875.4,405.0 M843.8,431.2 Q828.8,427.0 809.8,408.3" fill="none" stroke="#ffffff" stroke-opacity="0.104" stroke-width="0.6"/>
</g>
<line x1="846.5" y1="486.0" x2="846.5" y2="488.0" stroke="#a88c64" stroke-width="1.2"/>
<linearGradient id="gB2" x1="0" y1="0" x2="0" y2="1"><stop offset="0" stop-color="#a88e6c"/><stop offset="0.22" stop-color="#9a8660"/><stop offset="0.4" stop-color="#727446"/><stop offset="0.58" stop-color="#6e7c40"/><stop offset="0.7" stop-color="#86b43c"/><stop offset="0.85" stop-color="#7cb03a"/><stop offset="1" stop-color="#5a9a36"/></linearGradient>
<path d="M635.1,501 C639,510 643,525 644.2,542 C650,548 652,556 651.2,562 C650,575 640,582 630,582.3 L617,582.3 C605,580 600,572 600,564.2 C602,545 610,530 620,515 C625,508 630,503 635.1,501Z" fill="url(#gB2)"/>
<clipPath id="bnc"><path d="M635.1,501 C639,510 643,525 644.2,542 C650,548 652,556 651.2,562 C650,575 640,582 630,582.3 L617,582.3 C605,580 600,572 600,564.2 C602,545 610,530 620,515 C625,508 630,503 635.1,501Z"/></clipPath>
<g clip-path="url(#bnc)"><path d="M598,560 L608,540 L612,525 L600,525Z" fill="#a08a62"/><circle cx="612" cy="560" r="3" fill="#b8d050"/><circle cx="640" cy="556" r="3" fill="#b8d050"/><circle cx="625" cy="565" r="2" fill="#b0c848"/></g>
<clipPath id="lc12"><path d="M685.3,501.0 C695.7,516.4 708.4,536.8 708.4,552.2 C708.4,568.8 695.8,585.3 683.3,585.3 C669.2,585.3 655.2,569.8 655.2,554.2 C655.2,538.2 671.8,517.0 685.3,501.0Z"/></clipPath>
<path d="M685.3,501.0 C695.7,516.4 708.4,536.8 708.4,552.2 C708.4,568.8 695.8,585.3 683.3,585.3 C669.2,585.3 655.2,569.8 655.2,554.2 C655.2,538.2 671.8,517.0 685.3,501.0Z" fill="#386f33"/>
<g clip-path="url(#lc12)">
<rect x="670" y="495" width="30" height="10" fill="#a89068"/><circle cx="671" cy="520" r="4" fill="#8a8a58"/>
<line x1="685.3" y1="501.0" x2="683.3" y2="585.3" stroke="#ffffff" stroke-opacity="0.13" stroke-width="0.8"/>
<path d="M683.5,575.2 Q698.0,570.7 716.0,552.0 M683.5,575.2 Q669.3,570.1 652.2,550.5 M683.9,560.0 Q698.4,555.6 716.4,536.8 M683.9,560.0 Q669.6,554.9 652.5,535.3 M684.3,544.8 Q698.7,540.4 716.8,521.6 M684.3,544.8 Q670.0,539.7 652.9,520.1 M684.6,529.7 Q699.1,525.2 717.1,506.5 M684.6,529.7 Q670.4,524.5 653.3,505.0" fill="none" stroke="#ffffff" stroke-opacity="0.104" stroke-width="0.6"/>
</g>
<line x1="683.3" y1="585.3" x2="683.3" y2="587.3" stroke="#386f33" stroke-width="1.2"/>
<clipPath id="lc13"><path d="M741.5,500.0 C751.9,516.3 764.6,537.9 764.6,554.2 C764.6,570.2 751.0,586.3 737.5,586.3 C725.2,586.3 713.0,569.2 713.0,552.2 C713.0,536.5 728.7,515.7 741.5,500.0Z"/></clipPath>
<path d="M741.5,500.0 C751.9,516.3 764.6,537.9 764.6,554.2 C764.6,570.2 751.0,586.3 737.5,586.3 C725.2,586.3 713.0,569.2 713.0,552.2 C713.0,536.5 728.7,515.7 741.5,500.0Z" fill="#376d33"/>
<g clip-path="url(#lc13)">
<rect x="730" y="495" width="25" height="13" fill="#a89068"/><circle cx="715" cy="560" r="2.5" fill="#9a7050"/>
<line x1="741.5" y1="500.0" x2="737.5" y2="586.3" stroke="#ffffff" stroke-opacity="0.13" stroke-width="0.8"/>
<path d="M738.0,575.9 Q752.1,571.9 770.0,554.2 M738.0,575.9 Q724.3,570.7 708.1,551.3 M738.7,560.4 Q752.8,556.4 770.7,538.6 M738.7,560.4 Q725.0,555.1 708.8,535.8 M739.4,544.9 Q753.6,540.9 771.4,523.1 M739.4,544.9 Q725.7,539.6 709.5,520.2 M740.1,529.3 Q754.3,525.3 772.2,507.6 M740.1,529.3 Q726.4,524.1 710.3,504.7" fill="none" stroke="#ffffff" stroke-opacity="0.104" stroke-width="0.6"/>
</g>
<line x1="737.5" y1="586.3" x2="737.5" y2="588.3" stroke="#376d33" stroke-width="1.2"/>
<clipPath id="lc14"><path d="M793.3,501.0 C807.3,517.0 824.4,538.2 824.4,554.2 C824.4,569.8 811.3,585.3 798.3,585.3 C784.8,585.3 771.2,572.8 771.2,560.2 C771.2,542.4 783.4,518.8 793.3,501.0Z"/></clipPath>
<path d="M793.3,501.0 C807.3,517.0 824.4,538.2 824.4,554.2 C824.4,569.8 811.3,585.3 798.3,585.3 C784.8,585.3 771.2,572.8 771.2,560.2 C771.2,542.4 783.4,518.8 793.3,501.0Z" fill="#437f35"/>
<g clip-path="url(#lc14)">
<path d="M780,495 L810,495 L806,515 L800,520 L788,520 L783,515Z" fill="#a89068"/><circle cx="776.0" cy="545.0" r="3.0" fill="#b8c048"/><circle cx="780.0" cy="555.0" r="2.5" fill="#a8b840"/><circle cx="774.0" cy="560.0" r="2.0" fill="#9a7040"/><circle cx="805.0" cy="530.0" r="2.0" fill="#6a9a40"/>
<line x1="793.3" y1="501.0" x2="798.3" y2="585.3" stroke="#ffffff" stroke-opacity="0.13" stroke-width="0.8"/>
<path d="M797.7,575.2 Q811.8,569.5 828.3,549.2 M797.7,575.2 Q783.0,571.2 764.2,553.0 M796.8,560.0 Q810.9,554.3 827.4,534.1 M796.8,560.0 Q782.1,556.1 763.3,537.9 M795.9,544.8 Q810.0,539.2 826.5,518.9 M795.9,544.8 Q781.2,540.9 762.4,522.7 M795.0,529.7 Q809.1,524.0 825.6,503.7 M795.0,529.7 Q780.3,525.7 761.5,507.5" fill="none" stroke="#ffffff" stroke-opacity="0.104" stroke-width="0.6"/>
</g>
<line x1="798.3" y1="585.3" x2="798.3" y2="587.3" stroke="#437f35" stroke-width="1.2"/>
<clipPath id="lc15"><path d="M860.9,501.0 C870.8,518.8 883.0,542.4 883.0,560.2 C883.0,572.2 865.8,584.3 848.5,584.3 C839.0,584.3 829.4,574.2 829.4,564.2 C829.4,545.2 846.7,520.0 860.9,501.0Z"/></clipPath>
<path d="M860.9,501.0 C870.8,518.8 883.0,542.4 883.0,560.2 C883.0,572.2 865.8,584.3 848.5,584.3 C839.0,584.3 829.4,574.2 829.4,564.2 C829.4,545.2 846.7,520.0 860.9,501.0Z" fill="#bea67e"/>
<g clip-path="url(#lc15)">
<path d="M852,522 C872,530 884,552 880,572 C870,585 855,585 846,575 C842,555 845,538 852,522Z" fill="#5a8c38"/><circle cx="860.0" cy="550.0" r="3.0" fill="#b0c848"/><circle cx="852.0" cy="565.0" r="2.5" fill="#a8c040"/><circle cx="868.0" cy="560.0" r="2.0" fill="#9ab840"/><circle cx="862.0" cy="535.0" r="3.0" fill="#6a7a48"/>
<line x1="860.9" y1="501.0" x2="848.5" y2="584.3" stroke="#ffffff" stroke-opacity="0.13" stroke-width="0.8"/>
<path d="M850.0,574.3 Q865.1,571.7 885.4,555.1 M850.0,574.3 Q836.3,567.4 821.7,545.6 M852.2,559.3 Q867.3,556.7 887.7,540.1 M852.2,559.3 Q838.6,552.4 823.9,530.6 M854.5,544.3 Q869.5,541.7 889.9,525.1 M854.5,544.3 Q840.8,537.4 826.1,515.6 M856.7,529.3 Q871.8,526.7 892.1,510.1 M856.7,529.3 Q843.0,522.4 828.3,500.7" fill="none" stroke="#ffffff" stroke-opacity="0.104" stroke-width="0.6"/>
</g>
<line x1="848.5" y1="584.3" x2="848.5" y2="586.3" stroke="#bea67e" stroke-width="1.2"/>
<text x="600.5" y="622.3" font-size="12.6" text-anchor="start" transform="rotate(-30 600.5 622.3)" fill="#111" stroke="#111" stroke-width="0.35">Control</text>
<text x="678.7" y="609.9" font-size="12.6" text-anchor="start" transform="rotate(-30 678.7 609.9)" fill="#111" stroke="#111" stroke-width="0.35">B6</text>
<text x="723.9" y="616.0" font-size="12.6" text-anchor="start" transform="rotate(-30 723.9 616.0)" fill="#111" stroke="#111" stroke-width="0.35">MK1</text>
<text x="794.5" y="607.2" font-size="12.6" text-anchor="start" transform="rotate(-30 794.5 607.2)" fill="#111" stroke="#111" stroke-width="0.35">P1</text>
<text x="848.8" y="611.0" font-size="12.6" text-anchor="start" transform="rotate(-30 848.8 611.0)" fill="#111" stroke="#111" stroke-width="0.35">T22</text>
<text x="559.8" y="421.5" font-size="15" textLength="30.6" lengthAdjust="spacingAndGlyphs" fill="#000">FMA</text>
<text x="564.6" y="513.8" font-size="14.8" textLength="24.2" lengthAdjust="spacingAndGlyphs" fill="#000">NSL</text>
<rect x="599.4" y="772.5" width="288" height="88" fill="#f7f7f6"/>
<rect x="599.4" y="869.5" width="288" height="89.5" fill="#f8f8f7"/>
<ellipse cx="620" cy="790" rx="12" ry="4" fill="#e6e6e4" opacity="0.5"/>
<ellipse cx="700" cy="800" rx="14" ry="4" fill="#e6e6e4" opacity="0.5"/>
<ellipse cx="760" cy="795" rx="12" ry="4" fill="#e6e6e4" opacity="0.5"/>
<ellipse cx="640" cy="848" rx="14" ry="3" fill="#e6e6e4" opacity="0.5"/>
<ellipse cx="720" cy="850" rx="16" ry="4" fill="#e6e6e4" opacity="0.5"/>
<ellipse cx="815" cy="850" rx="12" ry="3" fill="#e6e6e4" opacity="0.5"/>
<ellipse cx="700" cy="890" rx="12" ry="4" fill="#e6e6e4" opacity="0.5"/>
<ellipse cx="770" cy="900" rx="10" ry="4" fill="#e6e6e4" opacity="0.5"/>
<rect x="830.5" y="772.5" width="57" height="12" fill="#d6d6d4"/>
<clipPath id="lc16"><path d="M619.1,774.0 C633.4,792.7 654.8,812.4 654.8,823.2 C654.8,839.0 641.2,858.3 630.1,858.3 C617.7,858.3 602.6,842.3 602.6,829.2 C602.6,817.1 612.5,795.0 619.1,774.0Z"/></clipPath>
<path d="M619.1,774.0 C633.4,792.7 654.8,812.4 654.8,823.2 C654.8,839.0 641.2,858.3 630.1,858.3 C617.7,858.3 602.6,842.3 602.6,829.2 C602.6,817.1 612.5,795.0 619.1,774.0Z" fill="#30592c"/>
<g clip-path="url(#lc16)">
<circle cx="615.0" cy="835.0" r="1.5" fill="#7a4a3a"/><circle cx="618.0" cy="842.0" r="1.2" fill="#6a4030"/><circle cx="610.0" cy="845.0" r="1.3" fill="#8a7a6a"/><circle cx="612.0" cy="838.0" r="1.2" fill="#7a4a3a"/>
<line x1="619.1" y1="774.0" x2="630.1" y2="858.3" stroke="#ffffff" stroke-opacity="0.13" stroke-width="0.8"/>
<path d="M628.8,848.2 Q642.2,841.7 657.0,820.7 M628.8,848.2 Q614.1,845.3 594.5,828.8 M626.8,833.0 Q640.3,826.5 655.0,805.5 M626.8,833.0 Q612.1,830.2 592.5,813.6 M624.8,817.8 Q638.3,811.3 653.0,790.3 M624.8,817.8 Q610.1,815.0 590.5,798.5 M622.8,802.7 Q636.3,796.1 651.0,775.1 M622.8,802.7 Q608.2,799.8 588.5,783.3" fill="none" stroke="#ffffff" stroke-opacity="0.104" stroke-width="0.6"/>
</g>
<line x1="630.1" y1="858.3" x2="630.1" y2="860.3" stroke="#30592c" stroke-width="1.2"/>
<clipPath id="lc17"><path d="M680.9,776.0 C693.1,794.7 711.4,814.4 711.4,825.2 C711.4,839.8 699.2,857.7 689.3,857.7 C676.7,857.7 661.2,840.9 661.2,827.2 C661.2,815.9 673.0,795.5 680.9,776.0Z"/></clipPath>
<path d="M680.9,776.0 C693.1,794.7 711.4,814.4 711.4,825.2 C711.4,839.8 699.2,857.7 689.3,857.7 C676.7,857.7 661.2,840.9 661.2,827.2 C661.2,815.9 673.0,795.5 680.9,776.0Z" fill="#305b2c"/>
<g clip-path="url(#lc17)">

<line x1="680.9" y1="776.0" x2="689.3" y2="857.7" stroke="#ffffff" stroke-opacity="0.13" stroke-width="0.8"/>
<path d="M688.3,847.9 Q701.3,842.0 716.0,822.3 M688.3,847.9 Q674.3,844.8 656.0,828.5 M686.8,833.2 Q699.8,827.3 714.5,807.6 M686.8,833.2 Q672.8,830.1 654.5,813.8 M685.3,818.5 Q698.3,812.6 712.9,792.9 M685.3,818.5 Q671.3,815.4 653.0,799.1 M683.8,803.8 Q696.8,797.9 711.4,778.2 M683.8,803.8 Q669.8,800.7 651.5,784.4" fill="none" stroke="#ffffff" stroke-opacity="0.104" stroke-width="0.6"/>
</g>
<line x1="689.3" y1="857.7" x2="689.3" y2="859.7" stroke="#305b2c" stroke-width="1.2"/>
<clipPath id="lc18"><path d="M745.9,776.0 C754.7,796.2 768.0,817.5 768.0,829.2 C768.0,840.8 754.0,854.9 742.5,854.9 C731.9,854.9 719.0,841.9 719.0,831.2 C719.0,819.1 735.1,797.0 745.9,776.0Z"/></clipPath>
<path d="M745.9,776.0 C754.7,796.2 768.0,817.5 768.0,829.2 C768.0,840.8 754.0,854.9 742.5,854.9 C731.9,854.9 719.0,841.9 719.0,831.2 C719.0,819.1 735.1,797.0 745.9,776.0Z" fill="#335f30"/>
<g clip-path="url(#lc18)">
<circle cx="749.0" cy="843.0" r="1.5" fill="#8a5a3a"/><circle cx="753.0" cy="838.0" r="1.2" fill="#8a5a3a"/><circle cx="738.0" cy="820.0" r="0.8" fill="#c0a080"/>
<line x1="745.9" y1="776.0" x2="742.5" y2="854.9" stroke="#ffffff" stroke-opacity="0.13" stroke-width="0.8"/>
<path d="M742.9,845.4 Q756.3,841.6 773.3,824.7 M742.9,845.4 Q729.9,840.5 714.5,822.1 M743.5,831.2 Q756.9,827.4 773.9,810.4 M743.5,831.2 Q730.5,826.3 715.1,807.9 M744.1,817.0 Q757.6,813.2 774.5,796.2 M744.1,817.0 Q731.1,812.0 715.7,793.7 M744.7,802.8 Q758.2,799.0 775.1,782.0 M744.7,802.8 Q731.7,797.8 716.3,779.5" fill="none" stroke="#ffffff" stroke-opacity="0.104" stroke-width="0.6"/>
</g>
<line x1="742.5" y1="854.9" x2="742.5" y2="856.9" stroke="#335f30" stroke-width="1.2"/>
<clipPath id="lc19"><path d="M792.3,775.0 C805.9,792.6 826.4,811.0 826.4,821.2 C826.4,833.8 811.5,849.3 799.3,849.3 C788.5,849.3 775.2,834.9 775.2,823.2 C775.2,812.6 785.5,793.3 792.3,775.0Z"/></clipPath>
<path d="M792.3,775.0 C805.9,792.6 826.4,811.0 826.4,821.2 C826.4,833.8 811.5,849.3 799.3,849.3 C788.5,849.3 775.2,834.9 775.2,823.2 C775.2,812.6 785.5,793.3 792.3,775.0Z" fill="#2d562a"/>
<g clip-path="url(#lc19)">

<line x1="792.3" y1="775.0" x2="799.3" y2="849.3" stroke="#ffffff" stroke-opacity="0.13" stroke-width="0.8"/>
<path d="M798.5,840.4 Q811.8,834.5 826.9,814.5 M798.5,840.4 Q784.3,837.1 765.7,820.3 M797.2,827.0 Q810.5,821.1 825.6,801.2 M797.2,827.0 Q783.0,823.7 764.4,806.9 M795.9,813.6 Q809.3,807.7 824.4,787.8 M795.9,813.6 Q781.7,810.3 763.2,793.6 M794.7,800.3 Q808.0,794.4 823.1,774.4 M794.7,800.3 Q780.5,797.0 761.9,780.2" fill="none" stroke="#ffffff" stroke-opacity="0.104" stroke-width="0.6"/>
</g>
<line x1="799.3" y1="849.3" x2="799.3" y2="851.3" stroke="#2d562a" stroke-width="1.2"/>
<clipPath id="lc20"><path d="M851.5,775.0 C865.1,799.4 885.6,825.2 885.6,839.3 C885.6,847.7 875.9,858.0 868.0,858.0 C852.4,858.0 833.4,843.3 833.4,831.2 C833.4,818.8 844.3,796.4 851.5,775.0Z"/></clipPath>
<path d="M851.5,775.0 C865.1,799.4 885.6,825.2 885.6,839.3 C885.6,847.7 875.9,858.0 868.0,858.0 C852.4,858.0 833.4,843.3 833.4,831.2 C833.4,818.8 844.3,796.4 851.5,775.0Z" fill="#47713f"/>
<g clip-path="url(#lc20)">
<path d="M851.5,775 L844,795 L836,818" stroke="#6a3a20" stroke-width="1.6" fill="none"/><path d="M880,852 L870,857" stroke="#6a3a20" stroke-width="1.6"/>
<line x1="851.5" y1="775.0" x2="868.0" y2="858.0" stroke="#ffffff" stroke-opacity="0.13" stroke-width="0.8"/>
<path d="M866.0,848.0 Q879.1,840.6 892.5,818.5 M866.0,848.0 Q851.1,846.2 830.3,830.9 M863.0,833.1 Q876.1,825.7 889.5,803.6 M863.0,833.1 Q848.1,831.2 827.3,816.0 M860.1,818.2 Q873.1,810.7 886.5,788.7 M860.1,818.2 Q845.2,816.3 824.4,801.0 M857.1,803.2 Q870.2,795.8 883.6,773.7 M857.1,803.2 Q842.2,801.3 821.4,786.1" fill="none" stroke="#ffffff" stroke-opacity="0.104" stroke-width="0.6"/>
</g>
<line x1="868.0" y1="858.0" x2="868.0" y2="860.0" stroke="#47713f" stroke-width="1.2"/>
<path d="M704,861 L708,853 L712,861 Z" fill="#2a532c"/>
<path d="M705,870 L715,870 L715,880 C712,878 708,875 705,870Z" fill="#2a532c"/>
<path d="M649.5,871.5 C650.8,873.9 650.5,884.6 651.2,891.5 C651.9,898.4 653.0,906.3 653.7,912.7 C654.4,919.1 655.2,924.8 655.4,929.7 C655.5,934.7 655.7,938.7 654.6,942.4 C653.5,946.1 651.6,949.3 648.6,951.7 C645.6,954.1 640.5,956.6 636.7,956.8 C632.9,956.9 629.0,954.7 625.7,952.6 C622.5,950.5 620.3,946.4 617.2,944.1 C614.1,941.8 609.4,942.1 607.0,939.0 C604.6,935.9 603.6,929.4 602.8,925.4 C601.9,921.4 601.2,918.3 601.9,915.2 C602.6,912.1 603.7,910.2 607.0,906.7 C610.3,903.2 617.0,897.8 621.5,894.0 C626.0,890.2 630.5,886.6 634.2,883.8 C637.9,881.0 641.0,879.0 643.5,877.0 C646.0,875.0 648.2,869.1 649.5,871.5Z" fill="#4e883c"/>
<clipPath id="cl5"><path d="M649.5,871.5 C650.8,873.9 650.5,884.6 651.2,891.5 C651.9,898.4 653.0,906.3 653.7,912.7 C654.4,919.1 655.2,924.8 655.4,929.7 C655.5,934.7 655.7,938.7 654.6,942.4 C653.5,946.1 651.6,949.3 648.6,951.7 C645.6,954.1 640.5,956.6 636.7,956.8 C632.9,956.9 629.0,954.7 625.7,952.6 C622.5,950.5 620.3,946.4 617.2,944.1 C614.1,941.8 609.4,942.1 607.0,939.0 C604.6,935.9 603.6,929.4 602.8,925.4 C601.9,921.4 601.2,918.3 601.9,915.2 C602.6,912.1 603.7,910.2 607.0,906.7 C610.3,903.2 617.0,897.8 621.5,894.0 C626.0,890.2 630.5,886.6 634.2,883.8 C637.9,881.0 641.0,879.0 643.5,877.0 C646.0,875.0 648.2,869.1 649.5,871.5Z"/></clipPath>
<g clip-path="url(#cl5)"><path d="M600,930 L640,880 L600,880Z" fill="#5a9444" opacity="0.6"/><path d="M649.5,871.5 L646,878 L643,885 L646,900 L650,903 L652,890 Z" fill="#6e2a1c"/><circle cx="641.8" cy="900" r="3" fill="#a8c048" opacity="0.8"/><path d="M606,938 L618,945 L626,953 L622,955 L612,947 L604,941Z" fill="#7a3020"/><circle cx="622" cy="935" r="1" fill="#8a5a3a"/><circle cx="624" cy="928" r="0.8" fill="#8a5a3a"/></g>
<clipPath id="lc21"><path d="M685.7,873.0 C696.4,893.2 712.4,914.5 712.4,926.2 C712.4,937.9 698.0,952.3 686.3,952.3 C673.7,952.3 658.2,936.8 658.2,924.2 C658.2,912.9 674.7,892.5 685.7,873.0Z"/></clipPath>
<path d="M685.7,873.0 C696.4,893.2 712.4,914.5 712.4,926.2 C712.4,937.9 698.0,952.3 686.3,952.3 C673.7,952.3 658.2,936.8 658.2,924.2 C658.2,912.9 674.7,892.5 685.7,873.0Z" fill="#28502a"/>
<g clip-path="url(#lc21)">

<line x1="685.7" y1="873.0" x2="686.3" y2="952.3" stroke="#ffffff" stroke-opacity="0.13" stroke-width="0.8"/>
<path d="M686.2,942.8 Q700.8,937.8 718.6,918.1 M686.2,942.8 Q671.5,938.0 653.5,918.6 M686.1,928.5 Q700.7,923.5 718.5,903.9 M686.1,928.5 Q671.4,923.7 653.4,904.4 M686.0,914.2 Q700.6,909.2 718.4,889.6 M686.0,914.2 Q671.3,909.5 653.3,890.1 M685.9,900.0 Q700.5,895.0 718.3,875.3 M685.9,900.0 Q671.2,895.2 653.2,875.8" fill="none" stroke="#ffffff" stroke-opacity="0.104" stroke-width="0.6"/>
</g>
<line x1="686.3" y1="952.3" x2="686.3" y2="954.3" stroke="#28502a" stroke-width="1.2"/>
<clipPath id="lc22"><path d="M743.1,875.0 C754.5,892.9 771.6,911.8 771.6,922.2 C771.6,936.2 757.8,953.3 746.5,953.3 C733.2,953.3 717.0,938.4 717.0,926.2 C717.0,914.9 732.7,894.5 743.1,875.0Z"/></clipPath>
<path d="M743.1,875.0 C754.5,892.9 771.6,911.8 771.6,922.2 C771.6,936.2 757.8,953.3 746.5,953.3 C733.2,953.3 717.0,938.4 717.0,926.2 C717.0,914.9 732.7,894.5 743.1,875.0Z" fill="#2a532c"/>
<g clip-path="url(#lc22)">

<line x1="743.1" y1="875.0" x2="746.5" y2="953.3" stroke="#ffffff" stroke-opacity="0.13" stroke-width="0.8"/>
<path d="M746.1,943.9 Q760.6,938.3 777.8,917.9 M746.1,943.9 Q731.1,939.6 712.2,920.7 M745.5,929.8 Q760.0,924.2 777.2,903.8 M745.5,929.8 Q730.5,925.5 711.6,906.6 M744.9,915.7 Q759.4,910.2 776.6,889.7 M744.9,915.7 Q729.9,911.4 711.0,892.5 M744.3,901.6 Q758.8,896.1 776.0,875.6 M744.3,901.6 Q729.3,897.3 710.4,878.4" fill="none" stroke="#ffffff" stroke-opacity="0.104" stroke-width="0.6"/>
</g>
<line x1="746.5" y1="953.3" x2="746.5" y2="955.3" stroke="#2a532c" stroke-width="1.2"/>
<clipPath id="lc23"><path d="M801.3,873.0 C812.5,891.7 829.4,911.4 829.4,922.2 C829.4,936.2 814.2,953.3 801.7,953.3 C789.3,953.3 774.2,937.3 774.2,924.2 C774.2,912.9 790.5,892.5 801.3,873.0Z"/></clipPath>
<path d="M801.3,873.0 C812.5,891.7 829.4,911.4 829.4,922.2 C829.4,936.2 814.2,953.3 801.7,953.3 C789.3,953.3 774.2,937.3 774.2,924.2 C774.2,912.9 790.5,892.5 801.3,873.0Z" fill="#29512b"/>
<g clip-path="url(#lc23)">

<line x1="801.3" y1="873.0" x2="801.7" y2="953.3" stroke="#ffffff" stroke-opacity="0.13" stroke-width="0.8"/>
<path d="M801.7,943.7 Q816.5,938.6 834.7,918.6 M801.7,943.7 Q786.7,938.8 768.4,919.0 M801.6,929.2 Q816.5,924.2 834.6,904.2 M801.6,929.2 Q786.6,924.3 768.3,904.5 M801.5,914.8 Q816.4,909.7 834.5,889.7 M801.5,914.8 Q786.6,909.9 768.2,890.1 M801.4,900.3 Q816.3,895.3 834.5,875.3 M801.4,900.3 Q786.5,895.4 768.2,875.6" fill="none" stroke="#ffffff" stroke-opacity="0.104" stroke-width="0.6"/>
</g>
<line x1="801.7" y1="953.3" x2="801.7" y2="955.3" stroke="#29512b" stroke-width="1.2"/>
<path d="M859.8,872.5 C861.5,872.5 865.0,883.6 866.7,887.6 C868.4,891.6 873.5,904.1 874.5,906.7 C875.5,909.3 874.1,909.0 874.9,909.7 C875.7,910.4 880.2,911.3 881.4,912.8 C882.6,914.3 884.7,919.9 884.9,922.3 C885.1,924.7 884.3,931.0 883.1,933.5 C881.9,936.0 876.8,942.0 874.5,943.9 C872.2,945.8 865.4,949.4 863.2,950.0 C861.0,950.6 857.5,949.6 855.4,949.1 C853.3,948.6 847.2,947.1 845.0,945.7 C842.8,944.3 837.9,939.7 836.4,937.0 C834.9,934.3 832.6,925.1 832.5,922.3 C832.4,919.5 834.4,914.4 835.5,912.8 C836.6,911.2 840.6,909.0 841.6,908.4 C842.6,907.8 843.8,908.5 844.2,907.6 C844.6,906.7 844.1,902.9 845.0,900.6 C845.9,898.3 850.3,890.9 852.0,887.6 C853.7,884.3 858.1,872.5 859.8,872.5Z" fill="#2c4f2c"/>
<line x1="855.4" y1="949" x2="855.4" y2="956" stroke="#2a3a22" stroke-width="1.4"/>
<path d="M753,955 L757,955 L757,961 L753,961Z" fill="#2a532c"/>
<text x="600.5" y="996.7" font-size="12.6" text-anchor="start" transform="rotate(-30 600.5 996.7)" fill="#111" stroke="#111" stroke-width="0.35">Control</text>
<text x="680.5" y="983.2" font-size="12.6" text-anchor="start" transform="rotate(-30 680.5 983.2)" fill="#111" stroke="#111" stroke-width="0.35">B6</text>
<text x="731.0" y="989.0" font-size="12.6" text-anchor="start" transform="rotate(-30 731.0 989.0)" fill="#111" stroke="#111" stroke-width="0.35">MK1</text>
<text x="806.0" y="981.3" font-size="12.6" text-anchor="start" transform="rotate(-30 806.0 981.3)" fill="#111" stroke="#111" stroke-width="0.35">P1</text>
<text x="863.2" y="985.1" font-size="12.6" text-anchor="start" transform="rotate(-30 863.2 985.1)" fill="#111" stroke="#111" stroke-width="0.35">T22</text>
<text x="564.7" y="785.0" font-size="14.2" textLength="31" lengthAdjust="spacingAndGlyphs" fill="#000">FMA</text>
<text x="567.4" y="892.0" font-size="14.2" textLength="24.4" lengthAdjust="spacingAndGlyphs" fill="#000">NSL</text>
<text x="0" y="0" font-size="19" textLength="387" lengthAdjust="spacingAndGlyphs" transform="translate(20.8 727) rotate(-90)" fill="#000">Anthracnose severity (% of diseased leaf area)</text>
</svg>
</body></html>
